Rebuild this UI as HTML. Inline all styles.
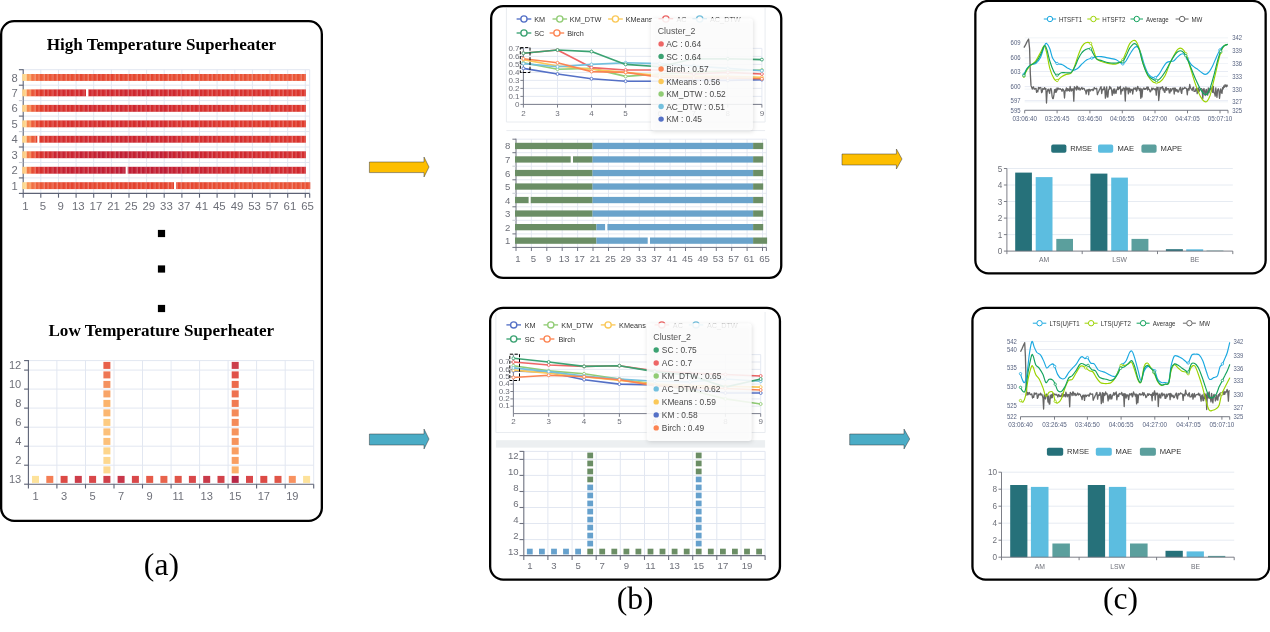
<!DOCTYPE html>
<html><head><meta charset="utf-8"><title>Superheater clustering figure</title>
<style>
html,body{margin:0;padding:0;background:#fff;}
body{width:1270px;height:632px;overflow:hidden;}
svg{display:block;}
text{white-space:pre;}
</style></head><body>
<svg width="1270" height="632" viewBox="0 0 1270 632" font-family='"Liberation Sans", sans-serif' text-anchor="middle" fill="#6e7079">
<rect x="0" y="0" width="1270" height="632" fill="#fff"/>
<rect x="1.15" y="21.15" width="320.70" height="499.70" rx="13" ry="13" fill="#fff" stroke="#000" stroke-width="2.3"/>
<rect x="491.15" y="6.15" width="290.10" height="271.70" rx="12" ry="12" fill="#fff" stroke="#000" stroke-width="2.3"/>
<rect x="490.15" y="307.95" width="289.80" height="271.60" rx="13" ry="13" fill="#fff" stroke="#000" stroke-width="2.3"/>
<rect x="975.35" y="0.95" width="290.30" height="272.40" rx="13" ry="13" fill="#fff" stroke="#000" stroke-width="2.3"/>
<rect x="972.45" y="307.85" width="296.70" height="271.70" rx="13" ry="13" fill="#fff" stroke="#000" stroke-width="2.3"/>
<path d="M369.4,162 L424,162 L424,157 L429,167.0 L424,177 L424,172.6 L369.4,172.6 Z" fill="#fdbe00" stroke="#3a3a3a" stroke-width="0.5"/>
<path d="M369.4,434 L424,434 L424,429 L429,439.0 L424,449 L424,445 L369.4,445 Z" fill="#4aacc6" stroke="#3a3a3a" stroke-width="0.5"/>
<path d="M842,154 L896.4,154 L896.4,149 L902,159.0 L896.4,169 L896.4,165 L842,165 Z" fill="#fdbe00" stroke="#3a3a3a" stroke-width="0.5"/>
<path d="M849.7,434 L904,434 L904,429 L909.7,439.0 L904,449 L904,445 L849.7,445 Z" fill="#4aacc6" stroke="#3a3a3a" stroke-width="0.5"/>
<text x="161.4" y="49.9" font-size="17.1" font-family='"Liberation Serif", serif' font-weight="bold" fill="#000" >High Temperature Superheater</text>
<text x="161.3" y="335.5" font-size="17.1" font-family='"Liberation Serif", serif' font-weight="bold" fill="#000" >Low Temperature Superheater</text>
<rect x="157.9" y="229.9" width="7.2" height="7.2" fill="#000" />
<rect x="157.9" y="265.4" width="7.2" height="7.2" fill="#000" />
<rect x="157.9" y="304.9" width="7.2" height="7.2" fill="#000" />
<text x="161.4" y="574.6" font-size="31.6" font-family='"Liberation Serif", serif' fill="#000" >(a)</text>
<text x="635.2" y="609.1" font-size="31.6" font-family='"Liberation Serif", serif' fill="#000" >(b)</text>
<text x="1120.6" y="609.1" font-size="31.6" font-family='"Liberation Serif", serif' fill="#000" >(c)</text>
<defs><pattern id="stA" x="22.2" y="0" width="4.432" height="10" patternUnits="userSpaceOnUse"><rect x="2.6" y="0" width="1.83" height="10" fill="#fff" fill-opacity="0.14"/></pattern></defs>
<path d="M23.2 69.7L309.7 69.7" stroke="#e2e7f1" stroke-width="1" />
<path d="M23.2 85.2L309.7 85.2" stroke="#e2e7f1" stroke-width="1" />
<path d="M23.2 100.6L309.7 100.6" stroke="#e2e7f1" stroke-width="1" />
<path d="M23.2 116.1L309.7 116.1" stroke="#e2e7f1" stroke-width="1" />
<path d="M23.2 131.6L309.7 131.6" stroke="#e2e7f1" stroke-width="1" />
<path d="M23.2 147.0L309.7 147.0" stroke="#e2e7f1" stroke-width="1" />
<path d="M23.2 162.5L309.7 162.5" stroke="#e2e7f1" stroke-width="1" />
<path d="M23.2 177.9L309.7 177.9" stroke="#e2e7f1" stroke-width="1" />
<path d="M40.8 69.7L40.8 193.4" stroke="#e2e7f1" stroke-width="1" />
<path d="M58.5 69.7L58.5 193.4" stroke="#e2e7f1" stroke-width="1" />
<path d="M76.1 69.7L76.1 193.4" stroke="#e2e7f1" stroke-width="1" />
<path d="M93.7 69.7L93.7 193.4" stroke="#e2e7f1" stroke-width="1" />
<path d="M111.4 69.7L111.4 193.4" stroke="#e2e7f1" stroke-width="1" />
<path d="M129.0 69.7L129.0 193.4" stroke="#e2e7f1" stroke-width="1" />
<path d="M146.6 69.7L146.6 193.4" stroke="#e2e7f1" stroke-width="1" />
<path d="M164.2 69.7L164.2 193.4" stroke="#e2e7f1" stroke-width="1" />
<path d="M181.9 69.7L181.9 193.4" stroke="#e2e7f1" stroke-width="1" />
<path d="M199.5 69.7L199.5 193.4" stroke="#e2e7f1" stroke-width="1" />
<path d="M217.1 69.7L217.1 193.4" stroke="#e2e7f1" stroke-width="1" />
<path d="M234.8 69.7L234.8 193.4" stroke="#e2e7f1" stroke-width="1" />
<path d="M252.4 69.7L252.4 193.4" stroke="#e2e7f1" stroke-width="1" />
<path d="M270.0 69.7L270.0 193.4" stroke="#e2e7f1" stroke-width="1" />
<path d="M287.7 69.7L287.7 193.4" stroke="#e2e7f1" stroke-width="1" />
<path d="M305.3 69.7L305.3 193.4" stroke="#e2e7f1" stroke-width="1" />
<path d="M309.7 69.7L309.7 193.4" stroke="#e2e7f1" stroke-width="1" />
<path d="M23.2 69.2L23.2 193.9" stroke="#5c6275" stroke-width="1.1" />
<path d="M23.2 193.4L309.7 193.4" stroke="#5c6275" stroke-width="1.1" />
<path d="M18.9 69.7L23.2 69.7" stroke="#5c6275" stroke-width="1.1" />
<path d="M18.9 85.2L23.2 85.2" stroke="#5c6275" stroke-width="1.1" />
<path d="M18.9 100.6L23.2 100.6" stroke="#c9ccd4" stroke-width="1.1" />
<path d="M18.9 116.1L23.2 116.1" stroke="#5c6275" stroke-width="1.1" />
<path d="M18.9 131.6L23.2 131.6" stroke="#c9ccd4" stroke-width="1.1" />
<path d="M18.9 147.0L23.2 147.0" stroke="#5c6275" stroke-width="1.1" />
<path d="M18.9 162.5L23.2 162.5" stroke="#c9ccd4" stroke-width="1.1" />
<path d="M18.9 177.9L23.2 177.9" stroke="#5c6275" stroke-width="1.1" />
<path d="M18.9 193.4L23.2 193.4" stroke="#5c6275" stroke-width="1.1" />
<path d="M23.2 193.4L23.2 197.7" stroke="#5c6275" stroke-width="1.1" />
<path d="M40.8 193.4L40.8 197.7" stroke="#5c6275" stroke-width="1.1" />
<path d="M58.5 193.4L58.5 197.7" stroke="#5c6275" stroke-width="1.1" />
<path d="M76.1 193.4L76.1 197.7" stroke="#5c6275" stroke-width="1.1" />
<path d="M93.7 193.4L93.7 197.7" stroke="#5c6275" stroke-width="1.1" />
<path d="M111.4 193.4L111.4 197.7" stroke="#5c6275" stroke-width="1.1" />
<path d="M129.0 193.4L129.0 197.7" stroke="#5c6275" stroke-width="1.1" />
<path d="M146.6 193.4L146.6 197.7" stroke="#5c6275" stroke-width="1.1" />
<path d="M164.2 193.4L164.2 197.7" stroke="#5c6275" stroke-width="1.1" />
<path d="M181.9 193.4L181.9 197.7" stroke="#5c6275" stroke-width="1.1" />
<path d="M199.5 193.4L199.5 197.7" stroke="#5c6275" stroke-width="1.1" />
<path d="M217.1 193.4L217.1 197.7" stroke="#5c6275" stroke-width="1.1" />
<path d="M234.8 193.4L234.8 197.7" stroke="#5c6275" stroke-width="1.1" />
<path d="M252.4 193.4L252.4 197.7" stroke="#5c6275" stroke-width="1.1" />
<path d="M270.0 193.4L270.0 197.7" stroke="#5c6275" stroke-width="1.1" />
<path d="M287.7 193.4L287.7 197.7" stroke="#5c6275" stroke-width="1.1" />
<path d="M305.3 193.4L305.3 197.7" stroke="#5c6275" stroke-width="1.1" />
<path d="M309.7 193.4L309.7 197.7" stroke="#5c6275" stroke-width="1.1" />
<rect x="22.2" y="74.0" width="4.5" height="6.9" fill="#fdd78c"/>
<rect x="26.6" y="74.0" width="4.5" height="6.9" fill="#f99c59"/>
<rect x="31.1" y="74.0" width="4.5" height="6.9" fill="#f27545"/>
<rect x="35.5" y="74.0" width="4.5" height="6.9" fill="#f0683e"/>
<rect x="39.9" y="74.0" width="4.5" height="6.9" fill="#ec5b38"/>
<rect x="44.4" y="74.0" width="4.5" height="6.9" fill="#ea5737"/>
<rect x="48.8" y="74.0" width="4.5" height="6.9" fill="#ea5636"/>
<rect x="53.2" y="74.0" width="4.5" height="6.9" fill="#e85034"/>
<rect x="57.7" y="74.0" width="4.5" height="6.9" fill="#e95335"/>
<rect x="62.1" y="74.0" width="4.5" height="6.9" fill="#e74e33"/>
<rect x="66.5" y="74.0" width="4.5" height="6.9" fill="#e85034"/>
<rect x="71.0" y="74.0" width="4.5" height="6.9" fill="#e84f33"/>
<rect x="75.4" y="74.0" width="4.5" height="6.9" fill="#e74c32"/>
<rect x="79.8" y="74.0" width="4.5" height="6.9" fill="#e54830"/>
<rect x="84.2" y="74.0" width="4.5" height="6.9" fill="#e74d32"/>
<rect x="88.7" y="74.0" width="4.5" height="6.9" fill="#e74c32"/>
<rect x="93.1" y="74.0" width="4.5" height="6.9" fill="#e54830"/>
<rect x="97.5" y="74.0" width="4.5" height="6.9" fill="#e4442f"/>
<rect x="102.0" y="74.0" width="4.5" height="6.9" fill="#e54730"/>
<rect x="106.4" y="74.0" width="4.5" height="6.9" fill="#e54830"/>
<rect x="110.8" y="74.0" width="4.5" height="6.9" fill="#e4432e"/>
<rect x="115.3" y="74.0" width="4.5" height="6.9" fill="#e64b31"/>
<rect x="119.7" y="74.0" width="4.5" height="6.9" fill="#e4442e"/>
<rect x="124.1" y="74.0" width="4.5" height="6.9" fill="#e54830"/>
<rect x="128.6" y="74.0" width="4.5" height="6.9" fill="#e64931"/>
<rect x="133.0" y="74.0" width="4.5" height="6.9" fill="#e64a31"/>
<rect x="137.4" y="74.0" width="4.5" height="6.9" fill="#e54830"/>
<rect x="141.9" y="74.0" width="4.5" height="6.9" fill="#e4442f"/>
<rect x="146.3" y="74.0" width="4.5" height="6.9" fill="#e64a31"/>
<rect x="150.7" y="74.0" width="4.5" height="6.9" fill="#e54730"/>
<rect x="155.2" y="74.0" width="4.5" height="6.9" fill="#e54730"/>
<rect x="159.6" y="74.0" width="4.5" height="6.9" fill="#e64931"/>
<rect x="164.0" y="74.0" width="4.5" height="6.9" fill="#e54830"/>
<rect x="168.5" y="74.0" width="4.5" height="6.9" fill="#e74d32"/>
<rect x="172.9" y="74.0" width="4.5" height="6.9" fill="#e74d33"/>
<rect x="177.3" y="74.0" width="4.5" height="6.9" fill="#e74d32"/>
<rect x="181.8" y="74.0" width="4.5" height="6.9" fill="#e64931"/>
<rect x="186.2" y="74.0" width="4.5" height="6.9" fill="#e74c32"/>
<rect x="190.6" y="74.0" width="4.5" height="6.9" fill="#e74e33"/>
<rect x="195.0" y="74.0" width="4.5" height="6.9" fill="#e74c32"/>
<rect x="199.5" y="74.0" width="4.5" height="6.9" fill="#e74e33"/>
<rect x="203.9" y="74.0" width="4.5" height="6.9" fill="#e85034"/>
<rect x="208.3" y="74.0" width="4.5" height="6.9" fill="#e74c32"/>
<rect x="212.8" y="74.0" width="4.5" height="6.9" fill="#e74e33"/>
<rect x="217.2" y="74.0" width="4.5" height="6.9" fill="#e95235"/>
<rect x="221.6" y="74.0" width="4.5" height="6.9" fill="#e85034"/>
<rect x="226.1" y="74.0" width="4.5" height="6.9" fill="#e85134"/>
<rect x="230.5" y="74.0" width="4.5" height="6.9" fill="#e74e33"/>
<rect x="234.9" y="74.0" width="4.5" height="6.9" fill="#e85034"/>
<rect x="239.4" y="74.0" width="4.5" height="6.9" fill="#e95436"/>
<rect x="243.8" y="74.0" width="4.5" height="6.9" fill="#e84f33"/>
<rect x="248.2" y="74.0" width="4.5" height="6.9" fill="#ea5636"/>
<rect x="252.7" y="74.0" width="4.5" height="6.9" fill="#e95436"/>
<rect x="257.1" y="74.0" width="4.5" height="6.9" fill="#e95234"/>
<rect x="261.5" y="74.0" width="4.5" height="6.9" fill="#ea5737"/>
<rect x="266.0" y="74.0" width="4.5" height="6.9" fill="#e95436"/>
<rect x="270.4" y="74.0" width="4.5" height="6.9" fill="#eb5837"/>
<rect x="274.8" y="74.0" width="4.5" height="6.9" fill="#e95335"/>
<rect x="279.3" y="74.0" width="4.5" height="6.9" fill="#e95335"/>
<rect x="283.7" y="74.0" width="4.5" height="6.9" fill="#e95436"/>
<rect x="288.1" y="74.0" width="4.5" height="6.9" fill="#e95235"/>
<rect x="292.6" y="74.0" width="4.5" height="6.9" fill="#ea5737"/>
<rect x="297.0" y="74.0" width="4.5" height="6.9" fill="#e95435"/>
<rect x="301.4" y="74.0" width="4.5" height="6.9" fill="#ea5536"/>
<rect x="22.2" y="74.0" width="283.6" height="6.9" fill="url(#stA)"/>
<rect x="22.2" y="89.4" width="4.5" height="6.9" fill="#fdd085"/>
<rect x="26.6" y="89.4" width="4.5" height="6.9" fill="#f5824c"/>
<rect x="31.1" y="89.4" width="4.5" height="6.9" fill="#ea5636"/>
<rect x="35.5" y="89.4" width="4.5" height="6.9" fill="#e3402d"/>
<rect x="39.9" y="89.4" width="4.5" height="6.9" fill="#de392c"/>
<rect x="44.4" y="89.4" width="4.5" height="6.9" fill="#d9332d"/>
<rect x="48.8" y="89.4" width="4.5" height="6.9" fill="#da342d"/>
<rect x="53.2" y="89.4" width="4.5" height="6.9" fill="#d52e2d"/>
<rect x="57.7" y="89.4" width="4.5" height="6.9" fill="#d42d2e"/>
<rect x="62.1" y="89.4" width="4.5" height="6.9" fill="#d22a2e"/>
<rect x="66.5" y="89.4" width="4.5" height="6.9" fill="#d22a2e"/>
<rect x="71.0" y="89.4" width="4.5" height="6.9" fill="#d42d2e"/>
<rect x="75.4" y="89.4" width="4.5" height="6.9" fill="#d32b2e"/>
<rect x="79.8" y="89.4" width="4.5" height="6.9" fill="#d1292e"/>
<rect x="84.2" y="89.4" width="4.5" height="6.9" fill="#d42c2e"/>
<rect x="88.7" y="89.4" width="4.5" height="6.9" fill="#d1292e"/>
<rect x="93.1" y="89.4" width="4.5" height="6.9" fill="#d22b2e"/>
<rect x="97.5" y="89.4" width="4.5" height="6.9" fill="#d22a2e"/>
<rect x="102.0" y="89.4" width="4.5" height="6.9" fill="#d22a2e"/>
<rect x="106.4" y="89.4" width="4.5" height="6.9" fill="#cd262f"/>
<rect x="110.8" y="89.4" width="4.5" height="6.9" fill="#d1292e"/>
<rect x="115.3" y="89.4" width="4.5" height="6.9" fill="#d0282e"/>
<rect x="119.7" y="89.4" width="4.5" height="6.9" fill="#cf272e"/>
<rect x="124.1" y="89.4" width="4.5" height="6.9" fill="#cb252f"/>
<rect x="128.6" y="89.4" width="4.5" height="6.9" fill="#d1292e"/>
<rect x="133.0" y="89.4" width="4.5" height="6.9" fill="#cf272e"/>
<rect x="137.4" y="89.4" width="4.5" height="6.9" fill="#ce272f"/>
<rect x="141.9" y="89.4" width="4.5" height="6.9" fill="#cc252f"/>
<rect x="146.3" y="89.4" width="4.5" height="6.9" fill="#cc262f"/>
<rect x="150.7" y="89.4" width="4.5" height="6.9" fill="#cc262f"/>
<rect x="155.2" y="89.4" width="4.5" height="6.9" fill="#d1292e"/>
<rect x="159.6" y="89.4" width="4.5" height="6.9" fill="#d1292e"/>
<rect x="164.0" y="89.4" width="4.5" height="6.9" fill="#d1292e"/>
<rect x="168.5" y="89.4" width="4.5" height="6.9" fill="#cf272e"/>
<rect x="172.9" y="89.4" width="4.5" height="6.9" fill="#cf272e"/>
<rect x="177.3" y="89.4" width="4.5" height="6.9" fill="#d32c2e"/>
<rect x="181.8" y="89.4" width="4.5" height="6.9" fill="#d42d2e"/>
<rect x="186.2" y="89.4" width="4.5" height="6.9" fill="#d42d2e"/>
<rect x="190.6" y="89.4" width="4.5" height="6.9" fill="#d42d2e"/>
<rect x="195.0" y="89.4" width="4.5" height="6.9" fill="#d42d2e"/>
<rect x="199.5" y="89.4" width="4.5" height="6.9" fill="#d42d2e"/>
<rect x="203.9" y="89.4" width="4.5" height="6.9" fill="#d62f2d"/>
<rect x="208.3" y="89.4" width="4.5" height="6.9" fill="#d7312d"/>
<rect x="212.8" y="89.4" width="4.5" height="6.9" fill="#d62f2d"/>
<rect x="217.2" y="89.4" width="4.5" height="6.9" fill="#d7302d"/>
<rect x="221.6" y="89.4" width="4.5" height="6.9" fill="#d62f2d"/>
<rect x="226.1" y="89.4" width="4.5" height="6.9" fill="#d52e2d"/>
<rect x="230.5" y="89.4" width="4.5" height="6.9" fill="#d6302d"/>
<rect x="234.9" y="89.4" width="4.5" height="6.9" fill="#d7312d"/>
<rect x="239.4" y="89.4" width="4.5" height="6.9" fill="#d7312d"/>
<rect x="243.8" y="89.4" width="4.5" height="6.9" fill="#d7312d"/>
<rect x="248.2" y="89.4" width="4.5" height="6.9" fill="#da352d"/>
<rect x="252.7" y="89.4" width="4.5" height="6.9" fill="#d7302d"/>
<rect x="257.1" y="89.4" width="4.5" height="6.9" fill="#d7312d"/>
<rect x="261.5" y="89.4" width="4.5" height="6.9" fill="#d7312d"/>
<rect x="266.0" y="89.4" width="4.5" height="6.9" fill="#d8312d"/>
<rect x="270.4" y="89.4" width="4.5" height="6.9" fill="#da342d"/>
<rect x="274.8" y="89.4" width="4.5" height="6.9" fill="#da342d"/>
<rect x="279.3" y="89.4" width="4.5" height="6.9" fill="#db362d"/>
<rect x="283.7" y="89.4" width="4.5" height="6.9" fill="#d9332d"/>
<rect x="288.1" y="89.4" width="4.5" height="6.9" fill="#dc362d"/>
<rect x="292.6" y="89.4" width="4.5" height="6.9" fill="#dc362d"/>
<rect x="297.0" y="89.4" width="4.5" height="6.9" fill="#db362d"/>
<rect x="301.4" y="89.4" width="4.5" height="6.9" fill="#dc362d"/>
<rect x="22.2" y="89.4" width="283.6" height="6.9" fill="url(#stA)"/>
<rect x="86.0" y="88.9" width="2.2" height="7.9" fill="#fff" />
<rect x="22.2" y="104.9" width="4.5" height="6.9" fill="#fdd287"/>
<rect x="26.6" y="104.9" width="4.5" height="6.9" fill="#f6874e"/>
<rect x="31.1" y="104.9" width="4.5" height="6.9" fill="#ed5e3a"/>
<rect x="35.5" y="104.9" width="4.5" height="6.9" fill="#e54830"/>
<rect x="39.9" y="104.9" width="4.5" height="6.9" fill="#e13d2c"/>
<rect x="44.4" y="104.9" width="4.5" height="6.9" fill="#dc362d"/>
<rect x="48.8" y="104.9" width="4.5" height="6.9" fill="#db352d"/>
<rect x="53.2" y="104.9" width="4.5" height="6.9" fill="#d52f2d"/>
<rect x="57.7" y="104.9" width="4.5" height="6.9" fill="#d62f2d"/>
<rect x="62.1" y="104.9" width="4.5" height="6.9" fill="#d7302d"/>
<rect x="66.5" y="104.9" width="4.5" height="6.9" fill="#d62f2d"/>
<rect x="71.0" y="104.9" width="4.5" height="6.9" fill="#d52e2d"/>
<rect x="75.4" y="104.9" width="4.5" height="6.9" fill="#d42d2e"/>
<rect x="79.8" y="104.9" width="4.5" height="6.9" fill="#d52e2d"/>
<rect x="84.2" y="104.9" width="4.5" height="6.9" fill="#d1292e"/>
<rect x="88.7" y="104.9" width="4.5" height="6.9" fill="#d0282e"/>
<rect x="93.1" y="104.9" width="4.5" height="6.9" fill="#d22a2e"/>
<rect x="97.5" y="104.9" width="4.5" height="6.9" fill="#d12a2e"/>
<rect x="102.0" y="104.9" width="4.5" height="6.9" fill="#d32c2e"/>
<rect x="106.4" y="104.9" width="4.5" height="6.9" fill="#d32b2e"/>
<rect x="110.8" y="104.9" width="4.5" height="6.9" fill="#d1292e"/>
<rect x="115.3" y="104.9" width="4.5" height="6.9" fill="#d12a2e"/>
<rect x="119.7" y="104.9" width="4.5" height="6.9" fill="#ce272f"/>
<rect x="124.1" y="104.9" width="4.5" height="6.9" fill="#d22a2e"/>
<rect x="128.6" y="104.9" width="4.5" height="6.9" fill="#d22b2e"/>
<rect x="133.0" y="104.9" width="4.5" height="6.9" fill="#cd262f"/>
<rect x="137.4" y="104.9" width="4.5" height="6.9" fill="#d0282e"/>
<rect x="141.9" y="104.9" width="4.5" height="6.9" fill="#d22a2e"/>
<rect x="146.3" y="104.9" width="4.5" height="6.9" fill="#d0282e"/>
<rect x="150.7" y="104.9" width="4.5" height="6.9" fill="#d32c2e"/>
<rect x="155.2" y="104.9" width="4.5" height="6.9" fill="#d1292e"/>
<rect x="159.6" y="104.9" width="4.5" height="6.9" fill="#ce272e"/>
<rect x="164.0" y="104.9" width="4.5" height="6.9" fill="#d0282e"/>
<rect x="168.5" y="104.9" width="4.5" height="6.9" fill="#d1292e"/>
<rect x="172.9" y="104.9" width="4.5" height="6.9" fill="#d42c2e"/>
<rect x="177.3" y="104.9" width="4.5" height="6.9" fill="#d42c2e"/>
<rect x="181.8" y="104.9" width="4.5" height="6.9" fill="#d52e2d"/>
<rect x="186.2" y="104.9" width="4.5" height="6.9" fill="#d32b2e"/>
<rect x="190.6" y="104.9" width="4.5" height="6.9" fill="#d42d2e"/>
<rect x="195.0" y="104.9" width="4.5" height="6.9" fill="#d32c2e"/>
<rect x="199.5" y="104.9" width="4.5" height="6.9" fill="#d62f2d"/>
<rect x="203.9" y="104.9" width="4.5" height="6.9" fill="#d7312d"/>
<rect x="208.3" y="104.9" width="4.5" height="6.9" fill="#d52e2d"/>
<rect x="212.8" y="104.9" width="4.5" height="6.9" fill="#d42d2e"/>
<rect x="217.2" y="104.9" width="4.5" height="6.9" fill="#d52f2d"/>
<rect x="221.6" y="104.9" width="4.5" height="6.9" fill="#d62f2d"/>
<rect x="226.1" y="104.9" width="4.5" height="6.9" fill="#d6302d"/>
<rect x="230.5" y="104.9" width="4.5" height="6.9" fill="#d7312d"/>
<rect x="234.9" y="104.9" width="4.5" height="6.9" fill="#da342d"/>
<rect x="239.4" y="104.9" width="4.5" height="6.9" fill="#d9332d"/>
<rect x="243.8" y="104.9" width="4.5" height="6.9" fill="#da342d"/>
<rect x="248.2" y="104.9" width="4.5" height="6.9" fill="#dc362d"/>
<rect x="252.7" y="104.9" width="4.5" height="6.9" fill="#dc372d"/>
<rect x="257.1" y="104.9" width="4.5" height="6.9" fill="#db352d"/>
<rect x="261.5" y="104.9" width="4.5" height="6.9" fill="#db362d"/>
<rect x="266.0" y="104.9" width="4.5" height="6.9" fill="#d9332d"/>
<rect x="270.4" y="104.9" width="4.5" height="6.9" fill="#d8322d"/>
<rect x="274.8" y="104.9" width="4.5" height="6.9" fill="#db352d"/>
<rect x="279.3" y="104.9" width="4.5" height="6.9" fill="#d8322d"/>
<rect x="283.7" y="104.9" width="4.5" height="6.9" fill="#d8322d"/>
<rect x="288.1" y="104.9" width="4.5" height="6.9" fill="#d9332d"/>
<rect x="292.6" y="104.9" width="4.5" height="6.9" fill="#dc362d"/>
<rect x="297.0" y="104.9" width="4.5" height="6.9" fill="#dc372d"/>
<rect x="301.4" y="104.9" width="4.5" height="6.9" fill="#dc372d"/>
<rect x="22.2" y="104.9" width="283.6" height="6.9" fill="url(#stA)"/>
<rect x="22.2" y="120.4" width="4.5" height="6.9" fill="#fdd489"/>
<rect x="26.6" y="120.4" width="4.5" height="6.9" fill="#f6894f"/>
<rect x="31.1" y="120.4" width="4.5" height="6.9" fill="#ec5d39"/>
<rect x="35.5" y="120.4" width="4.5" height="6.9" fill="#e54730"/>
<rect x="39.9" y="120.4" width="4.5" height="6.9" fill="#e13c2c"/>
<rect x="44.4" y="120.4" width="4.5" height="6.9" fill="#df3a2c"/>
<rect x="48.8" y="120.4" width="4.5" height="6.9" fill="#db362d"/>
<rect x="53.2" y="120.4" width="4.5" height="6.9" fill="#d9332d"/>
<rect x="57.7" y="120.4" width="4.5" height="6.9" fill="#db362d"/>
<rect x="62.1" y="120.4" width="4.5" height="6.9" fill="#d8322d"/>
<rect x="66.5" y="120.4" width="4.5" height="6.9" fill="#d62f2d"/>
<rect x="71.0" y="120.4" width="4.5" height="6.9" fill="#d62f2d"/>
<rect x="75.4" y="120.4" width="4.5" height="6.9" fill="#d62f2d"/>
<rect x="79.8" y="120.4" width="4.5" height="6.9" fill="#d7302d"/>
<rect x="84.2" y="120.4" width="4.5" height="6.9" fill="#d8312d"/>
<rect x="88.7" y="120.4" width="4.5" height="6.9" fill="#d42d2e"/>
<rect x="93.1" y="120.4" width="4.5" height="6.9" fill="#d62f2d"/>
<rect x="97.5" y="120.4" width="4.5" height="6.9" fill="#d32c2e"/>
<rect x="102.0" y="120.4" width="4.5" height="6.9" fill="#d22b2e"/>
<rect x="106.4" y="120.4" width="4.5" height="6.9" fill="#d52e2d"/>
<rect x="110.8" y="120.4" width="4.5" height="6.9" fill="#d42d2e"/>
<rect x="115.3" y="120.4" width="4.5" height="6.9" fill="#d22a2e"/>
<rect x="119.7" y="120.4" width="4.5" height="6.9" fill="#d32b2e"/>
<rect x="124.1" y="120.4" width="4.5" height="6.9" fill="#d52e2d"/>
<rect x="128.6" y="120.4" width="4.5" height="6.9" fill="#d52f2d"/>
<rect x="133.0" y="120.4" width="4.5" height="6.9" fill="#d52e2d"/>
<rect x="137.4" y="120.4" width="4.5" height="6.9" fill="#d22a2e"/>
<rect x="141.9" y="120.4" width="4.5" height="6.9" fill="#d22b2e"/>
<rect x="146.3" y="120.4" width="4.5" height="6.9" fill="#d62f2d"/>
<rect x="150.7" y="120.4" width="4.5" height="6.9" fill="#d32b2e"/>
<rect x="155.2" y="120.4" width="4.5" height="6.9" fill="#d22b2e"/>
<rect x="159.6" y="120.4" width="4.5" height="6.9" fill="#d42d2e"/>
<rect x="164.0" y="120.4" width="4.5" height="6.9" fill="#d62f2d"/>
<rect x="168.5" y="120.4" width="4.5" height="6.9" fill="#d52f2d"/>
<rect x="172.9" y="120.4" width="4.5" height="6.9" fill="#d8312d"/>
<rect x="177.3" y="120.4" width="4.5" height="6.9" fill="#d9332d"/>
<rect x="181.8" y="120.4" width="4.5" height="6.9" fill="#d52e2d"/>
<rect x="186.2" y="120.4" width="4.5" height="6.9" fill="#d7302d"/>
<rect x="190.6" y="120.4" width="4.5" height="6.9" fill="#d8312d"/>
<rect x="195.0" y="120.4" width="4.5" height="6.9" fill="#d6302d"/>
<rect x="199.5" y="120.4" width="4.5" height="6.9" fill="#d9332d"/>
<rect x="203.9" y="120.4" width="4.5" height="6.9" fill="#d7312d"/>
<rect x="208.3" y="120.4" width="4.5" height="6.9" fill="#d8322d"/>
<rect x="212.8" y="120.4" width="4.5" height="6.9" fill="#db362d"/>
<rect x="217.2" y="120.4" width="4.5" height="6.9" fill="#dc362d"/>
<rect x="221.6" y="120.4" width="4.5" height="6.9" fill="#dc362d"/>
<rect x="226.1" y="120.4" width="4.5" height="6.9" fill="#dc372d"/>
<rect x="230.5" y="120.4" width="4.5" height="6.9" fill="#db362d"/>
<rect x="234.9" y="120.4" width="4.5" height="6.9" fill="#dd382d"/>
<rect x="239.4" y="120.4" width="4.5" height="6.9" fill="#dd372d"/>
<rect x="243.8" y="120.4" width="4.5" height="6.9" fill="#de392c"/>
<rect x="248.2" y="120.4" width="4.5" height="6.9" fill="#db352d"/>
<rect x="252.7" y="120.4" width="4.5" height="6.9" fill="#de392c"/>
<rect x="257.1" y="120.4" width="4.5" height="6.9" fill="#dd382d"/>
<rect x="261.5" y="120.4" width="4.5" height="6.9" fill="#dd382d"/>
<rect x="266.0" y="120.4" width="4.5" height="6.9" fill="#dc362d"/>
<rect x="270.4" y="120.4" width="4.5" height="6.9" fill="#de392c"/>
<rect x="274.8" y="120.4" width="4.5" height="6.9" fill="#dc362d"/>
<rect x="279.3" y="120.4" width="4.5" height="6.9" fill="#de392c"/>
<rect x="283.7" y="120.4" width="4.5" height="6.9" fill="#de392c"/>
<rect x="288.1" y="120.4" width="4.5" height="6.9" fill="#de392c"/>
<rect x="292.6" y="120.4" width="4.5" height="6.9" fill="#e03c2c"/>
<rect x="297.0" y="120.4" width="4.5" height="6.9" fill="#de3a2c"/>
<rect x="301.4" y="120.4" width="4.5" height="6.9" fill="#e03b2c"/>
<rect x="22.2" y="120.4" width="283.6" height="6.9" fill="url(#stA)"/>
<rect x="22.2" y="135.8" width="4.5" height="6.9" fill="#fdd58a"/>
<rect x="26.6" y="135.8" width="4.5" height="6.9" fill="#f47e49"/>
<rect x="31.1" y="135.8" width="4.5" height="6.9" fill="#eb5a38"/>
<rect x="35.5" y="135.8" width="4.5" height="6.9" fill="#e3422e"/>
<rect x="39.9" y="135.8" width="4.5" height="6.9" fill="#dc372d"/>
<rect x="44.4" y="135.8" width="4.5" height="6.9" fill="#d9332d"/>
<rect x="48.8" y="135.8" width="4.5" height="6.9" fill="#d7312d"/>
<rect x="53.2" y="135.8" width="4.5" height="6.9" fill="#d52e2d"/>
<rect x="57.7" y="135.8" width="4.5" height="6.9" fill="#d42c2e"/>
<rect x="62.1" y="135.8" width="4.5" height="6.9" fill="#d22a2e"/>
<rect x="66.5" y="135.8" width="4.5" height="6.9" fill="#d42d2e"/>
<rect x="71.0" y="135.8" width="4.5" height="6.9" fill="#d12a2e"/>
<rect x="75.4" y="135.8" width="4.5" height="6.9" fill="#d22b2e"/>
<rect x="79.8" y="135.8" width="4.5" height="6.9" fill="#d22a2e"/>
<rect x="84.2" y="135.8" width="4.5" height="6.9" fill="#ce272f"/>
<rect x="88.7" y="135.8" width="4.5" height="6.9" fill="#d0282e"/>
<rect x="93.1" y="135.8" width="4.5" height="6.9" fill="#ce272e"/>
<rect x="97.5" y="135.8" width="4.5" height="6.9" fill="#cc262f"/>
<rect x="102.0" y="135.8" width="4.5" height="6.9" fill="#cb2530"/>
<rect x="106.4" y="135.8" width="4.5" height="6.9" fill="#ce272f"/>
<rect x="110.8" y="135.8" width="4.5" height="6.9" fill="#cc262f"/>
<rect x="115.3" y="135.8" width="4.5" height="6.9" fill="#cd262f"/>
<rect x="119.7" y="135.8" width="4.5" height="6.9" fill="#cc262f"/>
<rect x="124.1" y="135.8" width="4.5" height="6.9" fill="#cb252f"/>
<rect x="128.6" y="135.8" width="4.5" height="6.9" fill="#cd262f"/>
<rect x="133.0" y="135.8" width="4.5" height="6.9" fill="#cc252f"/>
<rect x="137.4" y="135.8" width="4.5" height="6.9" fill="#cd262f"/>
<rect x="141.9" y="135.8" width="4.5" height="6.9" fill="#c92430"/>
<rect x="146.3" y="135.8" width="4.5" height="6.9" fill="#cb252f"/>
<rect x="150.7" y="135.8" width="4.5" height="6.9" fill="#cb2430"/>
<rect x="155.2" y="135.8" width="4.5" height="6.9" fill="#cb2430"/>
<rect x="159.6" y="135.8" width="4.5" height="6.9" fill="#d0282e"/>
<rect x="164.0" y="135.8" width="4.5" height="6.9" fill="#ce272e"/>
<rect x="168.5" y="135.8" width="4.5" height="6.9" fill="#cc262f"/>
<rect x="172.9" y="135.8" width="4.5" height="6.9" fill="#ce272f"/>
<rect x="177.3" y="135.8" width="4.5" height="6.9" fill="#d22b2e"/>
<rect x="181.8" y="135.8" width="4.5" height="6.9" fill="#d32c2e"/>
<rect x="186.2" y="135.8" width="4.5" height="6.9" fill="#d22a2e"/>
<rect x="190.6" y="135.8" width="4.5" height="6.9" fill="#d42d2e"/>
<rect x="195.0" y="135.8" width="4.5" height="6.9" fill="#d42d2e"/>
<rect x="199.5" y="135.8" width="4.5" height="6.9" fill="#d52e2d"/>
<rect x="203.9" y="135.8" width="4.5" height="6.9" fill="#d32b2e"/>
<rect x="208.3" y="135.8" width="4.5" height="6.9" fill="#d32b2e"/>
<rect x="212.8" y="135.8" width="4.5" height="6.9" fill="#d32b2e"/>
<rect x="217.2" y="135.8" width="4.5" height="6.9" fill="#d7302d"/>
<rect x="221.6" y="135.8" width="4.5" height="6.9" fill="#d42d2e"/>
<rect x="226.1" y="135.8" width="4.5" height="6.9" fill="#d52e2d"/>
<rect x="230.5" y="135.8" width="4.5" height="6.9" fill="#d8312d"/>
<rect x="234.9" y="135.8" width="4.5" height="6.9" fill="#d52e2d"/>
<rect x="239.4" y="135.8" width="4.5" height="6.9" fill="#d42d2e"/>
<rect x="243.8" y="135.8" width="4.5" height="6.9" fill="#d8322d"/>
<rect x="248.2" y="135.8" width="4.5" height="6.9" fill="#d52e2d"/>
<rect x="252.7" y="135.8" width="4.5" height="6.9" fill="#d8322d"/>
<rect x="257.1" y="135.8" width="4.5" height="6.9" fill="#d8312d"/>
<rect x="261.5" y="135.8" width="4.5" height="6.9" fill="#d62f2d"/>
<rect x="266.0" y="135.8" width="4.5" height="6.9" fill="#d6302d"/>
<rect x="270.4" y="135.8" width="4.5" height="6.9" fill="#da342d"/>
<rect x="274.8" y="135.8" width="4.5" height="6.9" fill="#d9332d"/>
<rect x="279.3" y="135.8" width="4.5" height="6.9" fill="#d8322d"/>
<rect x="283.7" y="135.8" width="4.5" height="6.9" fill="#d9332d"/>
<rect x="288.1" y="135.8" width="4.5" height="6.9" fill="#da342d"/>
<rect x="292.6" y="135.8" width="4.5" height="6.9" fill="#da342d"/>
<rect x="297.0" y="135.8" width="4.5" height="6.9" fill="#d8312d"/>
<rect x="301.4" y="135.8" width="4.5" height="6.9" fill="#db362d"/>
<rect x="22.2" y="135.8" width="283.6" height="6.9" fill="url(#stA)"/>
<rect x="37.3" y="135.3" width="2.0" height="7.9" fill="#fff" />
<rect x="22.2" y="151.3" width="4.5" height="6.9" fill="#fdce84"/>
<rect x="26.6" y="151.3" width="4.5" height="6.9" fill="#f37b48"/>
<rect x="31.1" y="151.3" width="4.5" height="6.9" fill="#e95335"/>
<rect x="35.5" y="151.3" width="4.5" height="6.9" fill="#df3b2c"/>
<rect x="39.9" y="151.3" width="4.5" height="6.9" fill="#d6302d"/>
<rect x="44.4" y="151.3" width="4.5" height="6.9" fill="#d32b2e"/>
<rect x="48.8" y="151.3" width="4.5" height="6.9" fill="#d22b2e"/>
<rect x="53.2" y="151.3" width="4.5" height="6.9" fill="#ca2430"/>
<rect x="57.7" y="151.3" width="4.5" height="6.9" fill="#c92430"/>
<rect x="62.1" y="151.3" width="4.5" height="6.9" fill="#c72231"/>
<rect x="66.5" y="151.3" width="4.5" height="6.9" fill="#cc252f"/>
<rect x="71.0" y="151.3" width="4.5" height="6.9" fill="#ca2430"/>
<rect x="75.4" y="151.3" width="4.5" height="6.9" fill="#ca2430"/>
<rect x="79.8" y="151.3" width="4.5" height="6.9" fill="#c42031"/>
<rect x="84.2" y="151.3" width="4.5" height="6.9" fill="#c72231"/>
<rect x="88.7" y="151.3" width="4.5" height="6.9" fill="#c72230"/>
<rect x="93.1" y="151.3" width="4.5" height="6.9" fill="#c42131"/>
<rect x="97.5" y="151.3" width="4.5" height="6.9" fill="#c01e33"/>
<rect x="102.0" y="151.3" width="4.5" height="6.9" fill="#c01e32"/>
<rect x="106.4" y="151.3" width="4.5" height="6.9" fill="#c42031"/>
<rect x="110.8" y="151.3" width="4.5" height="6.9" fill="#c42131"/>
<rect x="115.3" y="151.3" width="4.5" height="6.9" fill="#be1d33"/>
<rect x="119.7" y="151.3" width="4.5" height="6.9" fill="#c11e32"/>
<rect x="124.1" y="151.3" width="4.5" height="6.9" fill="#c01d33"/>
<rect x="128.6" y="151.3" width="4.5" height="6.9" fill="#c42031"/>
<rect x="133.0" y="151.3" width="4.5" height="6.9" fill="#c42131"/>
<rect x="137.4" y="151.3" width="4.5" height="6.9" fill="#c01e33"/>
<rect x="141.9" y="151.3" width="4.5" height="6.9" fill="#c21f32"/>
<rect x="146.3" y="151.3" width="4.5" height="6.9" fill="#c52131"/>
<rect x="150.7" y="151.3" width="4.5" height="6.9" fill="#bf1d33"/>
<rect x="155.2" y="151.3" width="4.5" height="6.9" fill="#c21f32"/>
<rect x="159.6" y="151.3" width="4.5" height="6.9" fill="#c11e32"/>
<rect x="164.0" y="151.3" width="4.5" height="6.9" fill="#c72231"/>
<rect x="168.5" y="151.3" width="4.5" height="6.9" fill="#c21f32"/>
<rect x="172.9" y="151.3" width="4.5" height="6.9" fill="#c92330"/>
<rect x="177.3" y="151.3" width="4.5" height="6.9" fill="#c32032"/>
<rect x="181.8" y="151.3" width="4.5" height="6.9" fill="#c72231"/>
<rect x="186.2" y="151.3" width="4.5" height="6.9" fill="#c92330"/>
<rect x="190.6" y="151.3" width="4.5" height="6.9" fill="#c82330"/>
<rect x="195.0" y="151.3" width="4.5" height="6.9" fill="#c62231"/>
<rect x="199.5" y="151.3" width="4.5" height="6.9" fill="#cc252f"/>
<rect x="203.9" y="151.3" width="4.5" height="6.9" fill="#ce262f"/>
<rect x="208.3" y="151.3" width="4.5" height="6.9" fill="#cb252f"/>
<rect x="212.8" y="151.3" width="4.5" height="6.9" fill="#ce272e"/>
<rect x="217.2" y="151.3" width="4.5" height="6.9" fill="#d0282e"/>
<rect x="221.6" y="151.3" width="4.5" height="6.9" fill="#d0282e"/>
<rect x="226.1" y="151.3" width="4.5" height="6.9" fill="#d1292e"/>
<rect x="230.5" y="151.3" width="4.5" height="6.9" fill="#d1292e"/>
<rect x="234.9" y="151.3" width="4.5" height="6.9" fill="#d1292e"/>
<rect x="239.4" y="151.3" width="4.5" height="6.9" fill="#d1292e"/>
<rect x="243.8" y="151.3" width="4.5" height="6.9" fill="#cf272e"/>
<rect x="248.2" y="151.3" width="4.5" height="6.9" fill="#d22a2e"/>
<rect x="252.7" y="151.3" width="4.5" height="6.9" fill="#d1292e"/>
<rect x="257.1" y="151.3" width="4.5" height="6.9" fill="#d32b2e"/>
<rect x="261.5" y="151.3" width="4.5" height="6.9" fill="#d22b2e"/>
<rect x="266.0" y="151.3" width="4.5" height="6.9" fill="#d42d2e"/>
<rect x="270.4" y="151.3" width="4.5" height="6.9" fill="#d32c2e"/>
<rect x="274.8" y="151.3" width="4.5" height="6.9" fill="#d42d2e"/>
<rect x="279.3" y="151.3" width="4.5" height="6.9" fill="#d1292e"/>
<rect x="283.7" y="151.3" width="4.5" height="6.9" fill="#d22a2e"/>
<rect x="288.1" y="151.3" width="4.5" height="6.9" fill="#d42d2e"/>
<rect x="292.6" y="151.3" width="4.5" height="6.9" fill="#d22b2e"/>
<rect x="297.0" y="151.3" width="4.5" height="6.9" fill="#d0282e"/>
<rect x="301.4" y="151.3" width="4.5" height="6.9" fill="#d42d2e"/>
<rect x="22.2" y="151.3" width="283.6" height="6.9" fill="url(#stA)"/>
<rect x="22.2" y="166.8" width="4.5" height="6.9" fill="#fdcb81"/>
<rect x="26.6" y="166.8" width="4.5" height="6.9" fill="#f37846"/>
<rect x="31.1" y="166.8" width="4.5" height="6.9" fill="#e74c32"/>
<rect x="35.5" y="166.8" width="4.5" height="6.9" fill="#db362d"/>
<rect x="39.9" y="166.8" width="4.5" height="6.9" fill="#d62f2d"/>
<rect x="44.4" y="166.8" width="4.5" height="6.9" fill="#d0292e"/>
<rect x="48.8" y="166.8" width="4.5" height="6.9" fill="#cb252f"/>
<rect x="53.2" y="166.8" width="4.5" height="6.9" fill="#c62231"/>
<rect x="57.7" y="166.8" width="4.5" height="6.9" fill="#c92430"/>
<rect x="62.1" y="166.8" width="4.5" height="6.9" fill="#c42031"/>
<rect x="66.5" y="166.8" width="4.5" height="6.9" fill="#c42031"/>
<rect x="71.0" y="166.8" width="4.5" height="6.9" fill="#c32032"/>
<rect x="75.4" y="166.8" width="4.5" height="6.9" fill="#c42031"/>
<rect x="79.8" y="166.8" width="4.5" height="6.9" fill="#c42032"/>
<rect x="84.2" y="166.8" width="4.5" height="6.9" fill="#c52131"/>
<rect x="88.7" y="166.8" width="4.5" height="6.9" fill="#c42032"/>
<rect x="93.1" y="166.8" width="4.5" height="6.9" fill="#c32032"/>
<rect x="97.5" y="166.8" width="4.5" height="6.9" fill="#be1c33"/>
<rect x="102.0" y="166.8" width="4.5" height="6.9" fill="#c11e32"/>
<rect x="106.4" y="166.8" width="4.5" height="6.9" fill="#c11e32"/>
<rect x="110.8" y="166.8" width="4.5" height="6.9" fill="#c11e32"/>
<rect x="115.3" y="166.8" width="4.5" height="6.9" fill="#bb1b34"/>
<rect x="119.7" y="166.8" width="4.5" height="6.9" fill="#bb1a34"/>
<rect x="124.1" y="166.8" width="4.5" height="6.9" fill="#bc1b34"/>
<rect x="128.6" y="166.8" width="4.5" height="6.9" fill="#bf1d33"/>
<rect x="133.0" y="166.8" width="4.5" height="6.9" fill="#bf1d33"/>
<rect x="137.4" y="166.8" width="4.5" height="6.9" fill="#bf1d33"/>
<rect x="141.9" y="166.8" width="4.5" height="6.9" fill="#be1c33"/>
<rect x="146.3" y="166.8" width="4.5" height="6.9" fill="#c11e32"/>
<rect x="150.7" y="166.8" width="4.5" height="6.9" fill="#bf1d33"/>
<rect x="155.2" y="166.8" width="4.5" height="6.9" fill="#c11e32"/>
<rect x="159.6" y="166.8" width="4.5" height="6.9" fill="#bc1b34"/>
<rect x="164.0" y="166.8" width="4.5" height="6.9" fill="#bd1c34"/>
<rect x="168.5" y="166.8" width="4.5" height="6.9" fill="#c11e32"/>
<rect x="172.9" y="166.8" width="4.5" height="6.9" fill="#c42032"/>
<rect x="177.3" y="166.8" width="4.5" height="6.9" fill="#bf1d33"/>
<rect x="181.8" y="166.8" width="4.5" height="6.9" fill="#c52131"/>
<rect x="186.2" y="166.8" width="4.5" height="6.9" fill="#c52131"/>
<rect x="190.6" y="166.8" width="4.5" height="6.9" fill="#c92330"/>
<rect x="195.0" y="166.8" width="4.5" height="6.9" fill="#c72231"/>
<rect x="199.5" y="166.8" width="4.5" height="6.9" fill="#c72231"/>
<rect x="203.9" y="166.8" width="4.5" height="6.9" fill="#c72230"/>
<rect x="208.3" y="166.8" width="4.5" height="6.9" fill="#ca2430"/>
<rect x="212.8" y="166.8" width="4.5" height="6.9" fill="#c92330"/>
<rect x="217.2" y="166.8" width="4.5" height="6.9" fill="#cd262f"/>
<rect x="221.6" y="166.8" width="4.5" height="6.9" fill="#cc262f"/>
<rect x="226.1" y="166.8" width="4.5" height="6.9" fill="#ce272f"/>
<rect x="230.5" y="166.8" width="4.5" height="6.9" fill="#cc262f"/>
<rect x="234.9" y="166.8" width="4.5" height="6.9" fill="#d0282e"/>
<rect x="239.4" y="166.8" width="4.5" height="6.9" fill="#d0282e"/>
<rect x="243.8" y="166.8" width="4.5" height="6.9" fill="#cf272e"/>
<rect x="248.2" y="166.8" width="4.5" height="6.9" fill="#d0282e"/>
<rect x="252.7" y="166.8" width="4.5" height="6.9" fill="#cd262f"/>
<rect x="257.1" y="166.8" width="4.5" height="6.9" fill="#ce272f"/>
<rect x="261.5" y="166.8" width="4.5" height="6.9" fill="#cd262f"/>
<rect x="266.0" y="166.8" width="4.5" height="6.9" fill="#ce272f"/>
<rect x="270.4" y="166.8" width="4.5" height="6.9" fill="#ce272f"/>
<rect x="274.8" y="166.8" width="4.5" height="6.9" fill="#cd262f"/>
<rect x="279.3" y="166.8" width="4.5" height="6.9" fill="#d0282e"/>
<rect x="283.7" y="166.8" width="4.5" height="6.9" fill="#d1292e"/>
<rect x="288.1" y="166.8" width="4.5" height="6.9" fill="#cc262f"/>
<rect x="292.6" y="166.8" width="4.5" height="6.9" fill="#d22a2e"/>
<rect x="297.0" y="166.8" width="4.5" height="6.9" fill="#cf272e"/>
<rect x="301.4" y="166.8" width="4.5" height="6.9" fill="#cf282e"/>
<rect x="22.2" y="166.8" width="283.6" height="6.9" fill="url(#stA)"/>
<rect x="125.6" y="166.3" width="2.1" height="7.9" fill="#fff" />
<rect x="22.2" y="182.2" width="4.5" height="6.9" fill="#fdd98e"/>
<rect x="26.6" y="182.2" width="4.5" height="6.9" fill="#f89354"/>
<rect x="31.1" y="182.2" width="4.5" height="6.9" fill="#f17042"/>
<rect x="35.5" y="182.2" width="4.5" height="6.9" fill="#ed603b"/>
<rect x="39.9" y="182.2" width="4.5" height="6.9" fill="#ea5636"/>
<rect x="44.4" y="182.2" width="4.5" height="6.9" fill="#e84f33"/>
<rect x="48.8" y="182.2" width="4.5" height="6.9" fill="#e85134"/>
<rect x="53.2" y="182.2" width="4.5" height="6.9" fill="#e74c32"/>
<rect x="57.7" y="182.2" width="4.5" height="6.9" fill="#e64b31"/>
<rect x="62.1" y="182.2" width="4.5" height="6.9" fill="#e54730"/>
<rect x="66.5" y="182.2" width="4.5" height="6.9" fill="#e5462f"/>
<rect x="71.0" y="182.2" width="4.5" height="6.9" fill="#e4452f"/>
<rect x="75.4" y="182.2" width="4.5" height="6.9" fill="#e54630"/>
<rect x="79.8" y="182.2" width="4.5" height="6.9" fill="#e4432e"/>
<rect x="84.2" y="182.2" width="4.5" height="6.9" fill="#e4442f"/>
<rect x="88.7" y="182.2" width="4.5" height="6.9" fill="#e4432e"/>
<rect x="93.1" y="182.2" width="4.5" height="6.9" fill="#e54730"/>
<rect x="97.5" y="182.2" width="4.5" height="6.9" fill="#e54830"/>
<rect x="102.0" y="182.2" width="4.5" height="6.9" fill="#e54730"/>
<rect x="106.4" y="182.2" width="4.5" height="6.9" fill="#e4442f"/>
<rect x="110.8" y="182.2" width="4.5" height="6.9" fill="#e5462f"/>
<rect x="115.3" y="182.2" width="4.5" height="6.9" fill="#e3402d"/>
<rect x="119.7" y="182.2" width="4.5" height="6.9" fill="#e3422e"/>
<rect x="124.1" y="182.2" width="4.5" height="6.9" fill="#e3412d"/>
<rect x="128.6" y="182.2" width="4.5" height="6.9" fill="#e3412d"/>
<rect x="133.0" y="182.2" width="4.5" height="6.9" fill="#e3412d"/>
<rect x="137.4" y="182.2" width="4.5" height="6.9" fill="#e3422e"/>
<rect x="141.9" y="182.2" width="4.5" height="6.9" fill="#e54730"/>
<rect x="146.3" y="182.2" width="4.5" height="6.9" fill="#e3402d"/>
<rect x="150.7" y="182.2" width="4.5" height="6.9" fill="#e3412d"/>
<rect x="155.2" y="182.2" width="4.5" height="6.9" fill="#e4442e"/>
<rect x="159.6" y="182.2" width="4.5" height="6.9" fill="#e4442e"/>
<rect x="164.0" y="182.2" width="4.5" height="6.9" fill="#e4432e"/>
<rect x="168.5" y="182.2" width="4.5" height="6.9" fill="#e64931"/>
<rect x="172.9" y="182.2" width="4.5" height="6.9" fill="#e4442e"/>
<rect x="177.3" y="182.2" width="4.5" height="6.9" fill="#e54830"/>
<rect x="181.8" y="182.2" width="4.5" height="6.9" fill="#e64b31"/>
<rect x="186.2" y="182.2" width="4.5" height="6.9" fill="#e64a31"/>
<rect x="190.6" y="182.2" width="4.5" height="6.9" fill="#e54630"/>
<rect x="195.0" y="182.2" width="4.5" height="6.9" fill="#e64b32"/>
<rect x="199.5" y="182.2" width="4.5" height="6.9" fill="#e54830"/>
<rect x="203.9" y="182.2" width="4.5" height="6.9" fill="#e54630"/>
<rect x="208.3" y="182.2" width="4.5" height="6.9" fill="#e64b32"/>
<rect x="212.8" y="182.2" width="4.5" height="6.9" fill="#e74d32"/>
<rect x="217.2" y="182.2" width="4.5" height="6.9" fill="#e74c32"/>
<rect x="221.6" y="182.2" width="4.5" height="6.9" fill="#e64b32"/>
<rect x="226.1" y="182.2" width="4.5" height="6.9" fill="#e64b32"/>
<rect x="230.5" y="182.2" width="4.5" height="6.9" fill="#e74d32"/>
<rect x="234.9" y="182.2" width="4.5" height="6.9" fill="#e74d32"/>
<rect x="239.4" y="182.2" width="4.5" height="6.9" fill="#e95235"/>
<rect x="243.8" y="182.2" width="4.5" height="6.9" fill="#e95235"/>
<rect x="248.2" y="182.2" width="4.5" height="6.9" fill="#e85134"/>
<rect x="252.7" y="182.2" width="4.5" height="6.9" fill="#e74e33"/>
<rect x="257.1" y="182.2" width="4.5" height="6.9" fill="#e95234"/>
<rect x="261.5" y="182.2" width="4.5" height="6.9" fill="#e85034"/>
<rect x="266.0" y="182.2" width="4.5" height="6.9" fill="#ea5536"/>
<rect x="270.4" y="182.2" width="4.5" height="6.9" fill="#e95436"/>
<rect x="274.8" y="182.2" width="4.5" height="6.9" fill="#e95335"/>
<rect x="279.3" y="182.2" width="4.5" height="6.9" fill="#e85034"/>
<rect x="283.7" y="182.2" width="4.5" height="6.9" fill="#e85034"/>
<rect x="288.1" y="182.2" width="4.5" height="6.9" fill="#e85034"/>
<rect x="292.6" y="182.2" width="4.5" height="6.9" fill="#e95335"/>
<rect x="297.0" y="182.2" width="4.5" height="6.9" fill="#e85134"/>
<rect x="301.4" y="182.2" width="4.5" height="6.9" fill="#e95235"/>
<rect x="305.8" y="182.2" width="4.5" height="6.9" fill="#e95235"/>
<rect x="22.2" y="182.2" width="288.1" height="6.9" fill="url(#stA)"/>
<rect x="174.0" y="181.7" width="2.1" height="7.9" fill="#fff" />
<text x="17.8" y="81.5" font-size="11.2" text-anchor="end" >8</text>
<text x="17.8" y="96.9" font-size="11.2" text-anchor="end" >7</text>
<text x="17.8" y="112.4" font-size="11.2" text-anchor="end" >6</text>
<text x="17.8" y="127.9" font-size="11.2" text-anchor="end" >5</text>
<text x="17.8" y="143.3" font-size="11.2" text-anchor="end" >4</text>
<text x="17.8" y="158.8" font-size="11.2" text-anchor="end" >3</text>
<text x="17.8" y="174.2" font-size="11.2" text-anchor="end" >2</text>
<text x="17.8" y="189.7" font-size="11.2" text-anchor="end" >1</text>
<text x="25.4" y="210.1" font-size="11.4" >1</text>
<text x="43.0" y="210.1" font-size="11.4" >5</text>
<text x="60.7" y="210.1" font-size="11.4" >9</text>
<text x="78.3" y="210.1" font-size="11.4" >13</text>
<text x="95.9" y="210.1" font-size="11.4" >17</text>
<text x="113.6" y="210.1" font-size="11.4" >21</text>
<text x="131.2" y="210.1" font-size="11.4" >25</text>
<text x="148.8" y="210.1" font-size="11.4" >29</text>
<text x="166.4" y="210.1" font-size="11.4" >33</text>
<text x="184.1" y="210.1" font-size="11.4" >37</text>
<text x="201.7" y="210.1" font-size="11.4" >41</text>
<text x="219.3" y="210.1" font-size="11.4" >45</text>
<text x="237.0" y="210.1" font-size="11.4" >49</text>
<text x="254.6" y="210.1" font-size="11.4" >53</text>
<text x="272.2" y="210.1" font-size="11.4" >57</text>
<text x="289.9" y="210.1" font-size="11.4" >61</text>
<text x="307.5" y="210.1" font-size="11.4" >65</text>
<path d="M28.4 465.2L313.7 465.2" stroke="#e2e7f1" stroke-width="1" />
<path d="M28.4 446.2L313.7 446.2" stroke="#e2e7f1" stroke-width="1" />
<path d="M28.4 427.2L313.7 427.2" stroke="#e2e7f1" stroke-width="1" />
<path d="M28.4 408.1L313.7 408.1" stroke="#e2e7f1" stroke-width="1" />
<path d="M28.4 389.1L313.7 389.1" stroke="#e2e7f1" stroke-width="1" />
<path d="M28.4 370.1L313.7 370.1" stroke="#e2e7f1" stroke-width="1" />
<path d="M28.4 360.6L313.7 360.6" stroke="#e2e7f1" stroke-width="1" />
<path d="M56.9 360.6L56.9 484.2" stroke="#e2e7f1" stroke-width="1" />
<path d="M85.5 360.6L85.5 484.2" stroke="#e2e7f1" stroke-width="1" />
<path d="M114.0 360.6L114.0 484.2" stroke="#e2e7f1" stroke-width="1" />
<path d="M142.5 360.6L142.5 484.2" stroke="#e2e7f1" stroke-width="1" />
<path d="M171.1 360.6L171.1 484.2" stroke="#e2e7f1" stroke-width="1" />
<path d="M199.6 360.6L199.6 484.2" stroke="#e2e7f1" stroke-width="1" />
<path d="M228.1 360.6L228.1 484.2" stroke="#e2e7f1" stroke-width="1" />
<path d="M256.6 360.6L256.6 484.2" stroke="#e2e7f1" stroke-width="1" />
<path d="M285.2 360.6L285.2 484.2" stroke="#e2e7f1" stroke-width="1" />
<path d="M313.7 360.6L313.7 484.2" stroke="#e2e7f1" stroke-width="1" />
<rect x="32.0" y="475.9" width="7.0" height="7.0" fill="#fde29a" />
<rect x="46.3" y="475.9" width="7.0" height="7.0" fill="#f47e55" />
<rect x="60.6" y="475.9" width="7.0" height="7.0" fill="#dc4a45" />
<rect x="74.8" y="475.9" width="7.0" height="7.0" fill="#cd3d4a" />
<rect x="89.1" y="475.9" width="7.0" height="7.0" fill="#d9484a" />
<rect x="103.4" y="475.9" width="7.0" height="7.0" fill="#d0404a" />
<rect x="117.6" y="475.9" width="7.0" height="7.0" fill="#c8364a" />
<rect x="131.9" y="475.9" width="7.0" height="7.0" fill="#d9484a" />
<rect x="146.2" y="475.9" width="7.0" height="7.0" fill="#e65a48" />
<rect x="160.4" y="475.9" width="7.0" height="7.0" fill="#e8644c" />
<rect x="174.7" y="475.9" width="7.0" height="7.0" fill="#e05548" />
<rect x="188.9" y="475.9" width="7.0" height="7.0" fill="#d9484a" />
<rect x="203.2" y="475.9" width="7.0" height="7.0" fill="#c93a4a" />
<rect x="217.5" y="475.9" width="7.0" height="7.0" fill="#d2424a" />
<rect x="231.7" y="475.9" width="7.0" height="7.0" fill="#b82848" />
<rect x="246.0" y="475.9" width="7.0" height="7.0" fill="#d9484a" />
<rect x="260.3" y="475.9" width="7.0" height="7.0" fill="#dc4a45" />
<rect x="274.5" y="475.9" width="7.0" height="7.0" fill="#e05548" />
<rect x="288.8" y="475.9" width="7.0" height="7.0" fill="#f89260" />
<rect x="303.1" y="475.9" width="7.0" height="7.0" fill="#fde29a" />
<rect x="103.4" y="466.4" width="7.0" height="7.0" fill="#fdd890" />
<rect x="231.7" y="466.4" width="7.0" height="7.0" fill="#fbb06a" />
<rect x="103.4" y="456.9" width="7.0" height="7.0" fill="#fdd890" />
<rect x="231.7" y="456.9" width="7.0" height="7.0" fill="#f99f62" />
<rect x="103.4" y="447.4" width="7.0" height="7.0" fill="#fdd58c" />
<rect x="231.7" y="447.4" width="7.0" height="7.0" fill="#f99f62" />
<rect x="103.4" y="437.9" width="7.0" height="7.0" fill="#fcc07a" />
<rect x="231.7" y="437.9" width="7.0" height="7.0" fill="#f6935c" />
<rect x="103.4" y="428.4" width="7.0" height="7.0" fill="#fcc07a" />
<rect x="231.7" y="428.4" width="7.0" height="7.0" fill="#f6935c" />
<rect x="103.4" y="418.9" width="7.0" height="7.0" fill="#fdcb82" />
<rect x="231.7" y="418.9" width="7.0" height="7.0" fill="#f48a58" />
<rect x="103.4" y="409.4" width="7.0" height="7.0" fill="#fbb670" />
<rect x="231.7" y="409.4" width="7.0" height="7.0" fill="#f48a58" />
<rect x="103.4" y="399.9" width="7.0" height="7.0" fill="#fbb36c" />
<rect x="231.7" y="399.9" width="7.0" height="7.0" fill="#f07a52" />
<rect x="103.4" y="390.4" width="7.0" height="7.0" fill="#f8a468" />
<rect x="231.7" y="390.4" width="7.0" height="7.0" fill="#ee7150" />
<rect x="103.4" y="380.9" width="7.0" height="7.0" fill="#f4915f" />
<rect x="231.7" y="380.9" width="7.0" height="7.0" fill="#ec6a4c" />
<rect x="103.4" y="371.4" width="7.0" height="7.0" fill="#ee7755" />
<rect x="231.7" y="371.4" width="7.0" height="7.0" fill="#e0524a" />
<rect x="103.4" y="361.9" width="7.0" height="7.0" fill="#e8604a" />
<rect x="231.7" y="361.9" width="7.0" height="7.0" fill="#cc3e4c" />
<path d="M28.4 360.1L28.4 484.7" stroke="#5c6275" stroke-width="1.1" />
<path d="M28.4 484.2L313.7 484.2" stroke="#5c6275" stroke-width="1.1" />
<path d="M24.1 484.2L28.4 484.2" stroke="#5c6275" stroke-width="1.1" />
<path d="M24.1 465.2L28.4 465.2" stroke="#5c6275" stroke-width="1.1" />
<path d="M24.1 446.2L28.4 446.2" stroke="#5c6275" stroke-width="1.1" />
<path d="M24.1 427.2L28.4 427.2" stroke="#5c6275" stroke-width="1.1" />
<path d="M24.1 408.1L28.4 408.1" stroke="#5c6275" stroke-width="1.1" />
<path d="M24.1 389.1L28.4 389.1" stroke="#5c6275" stroke-width="1.1" />
<path d="M24.1 370.1L28.4 370.1" stroke="#5c6275" stroke-width="1.1" />
<path d="M24.1 360.6L28.4 360.6" stroke="#5c6275" stroke-width="1.1" />
<path d="M28.4 484.2L28.4 488.5" stroke="#5c6275" stroke-width="1.1" />
<path d="M56.9 484.2L56.9 488.5" stroke="#5c6275" stroke-width="1.1" />
<path d="M85.5 484.2L85.5 488.5" stroke="#5c6275" stroke-width="1.1" />
<path d="M114.0 484.2L114.0 488.5" stroke="#5c6275" stroke-width="1.1" />
<path d="M142.5 484.2L142.5 488.5" stroke="#5c6275" stroke-width="1.1" />
<path d="M171.1 484.2L171.1 488.5" stroke="#5c6275" stroke-width="1.1" />
<path d="M199.6 484.2L199.6 488.5" stroke="#5c6275" stroke-width="1.1" />
<path d="M228.1 484.2L228.1 488.5" stroke="#5c6275" stroke-width="1.1" />
<path d="M256.6 484.2L256.6 488.5" stroke="#5c6275" stroke-width="1.1" />
<path d="M285.2 484.2L285.2 488.5" stroke="#5c6275" stroke-width="1.1" />
<path d="M313.7 484.2L313.7 488.5" stroke="#5c6275" stroke-width="1.1" />
<text x="21.3" y="483.4" font-size="11.1" text-anchor="end" >13</text>
<text x="21.3" y="464.4" font-size="11.1" text-anchor="end" >2</text>
<text x="21.3" y="445.4" font-size="11.1" text-anchor="end" >4</text>
<text x="21.3" y="426.4" font-size="11.1" text-anchor="end" >6</text>
<text x="21.3" y="407.4" font-size="11.1" text-anchor="end" >8</text>
<text x="21.3" y="388.4" font-size="11.1" text-anchor="end" >10</text>
<text x="21.3" y="369.3" font-size="11.1" text-anchor="end" >12</text>
<text x="35.5" y="500.4" font-size="11.1" >1</text>
<text x="64.1" y="500.4" font-size="11.1" >3</text>
<text x="92.6" y="500.4" font-size="11.1" >5</text>
<text x="121.1" y="500.4" font-size="11.1" >7</text>
<text x="149.7" y="500.4" font-size="11.1" >9</text>
<text x="178.2" y="500.4" font-size="11.1" >11</text>
<text x="206.7" y="500.4" font-size="11.1" >13</text>
<text x="235.2" y="500.4" font-size="11.1" >15</text>
<text x="263.8" y="500.4" font-size="11.1" >17</text>
<text x="292.3" y="500.4" font-size="11.1" >19</text>
<defs><filter id="blur2" x="-20%" y="-20%" width="140%" height="140%"><feGaussianBlur stdDeviation="2.2"/></filter></defs>
<path d="M506.4 8.0L506.4 122.0" stroke="#e9ecf0" stroke-width="1" />
<path d="M765.1 8.0L765.1 122.0" stroke="#e9ecf0" stroke-width="1" />
<path d="M506.4 122.0L765.1 122.0" stroke="#e9ecf0" stroke-width="1" />
<path d="M506.4 130.6L765.1 130.6" stroke="#e9ecf0" stroke-width="1" />
<path d="M516.6 19.0L520.9 19.0" stroke="#5470c6" stroke-width="1.35" />
<path d="M527.1 19.0L531.3 19.0" stroke="#5470c6" stroke-width="1.35" />
<circle cx="523.95" cy="19.00" r="3.1" fill="#fff" stroke="#5470c6" stroke-width="1.35"/>
<text transform="translate(534.2,21.7) scale(0.9,1)" font-size="8.1" text-anchor="start" fill="#333" >KM</text>
<path d="M552.5 19.0L556.7 19.0" stroke="#91cc75" stroke-width="1.35" />
<path d="M562.9 19.0L567.1 19.0" stroke="#91cc75" stroke-width="1.35" />
<circle cx="559.80" cy="19.00" r="3.1" fill="#fff" stroke="#91cc75" stroke-width="1.35"/>
<text transform="translate(569.8,21.7) scale(0.9,1)" font-size="8.1" text-anchor="start" fill="#333" >KM_DTW</text>
<path d="M608.1 19.0L612.4 19.0" stroke="#fac858" stroke-width="1.35" />
<path d="M618.6 19.0L622.8 19.0" stroke="#fac858" stroke-width="1.35" />
<circle cx="615.45" cy="19.00" r="3.1" fill="#fff" stroke="#fac858" stroke-width="1.35"/>
<text transform="translate(625.7,21.7) scale(0.9,1)" font-size="8.1" text-anchor="start" fill="#333" >KMeans</text>
<path d="M658.5 19.0L662.8 19.0" stroke="#ee6666" stroke-width="1.35" />
<path d="M669.0 19.0L673.2 19.0" stroke="#ee6666" stroke-width="1.35" />
<circle cx="665.85" cy="19.00" r="3.1" fill="#fff" stroke="#ee6666" stroke-width="1.35"/>
<text transform="translate(676.4,21.7) scale(0.9,1)" font-size="8.1" text-anchor="start" fill="#333" >AC</text>
<path d="M692.4 19.0L696.6 19.0" stroke="#73c0de" stroke-width="1.35" />
<path d="M702.8 19.0L707.0 19.0" stroke="#73c0de" stroke-width="1.35" />
<circle cx="699.70" cy="19.00" r="3.1" fill="#fff" stroke="#73c0de" stroke-width="1.35"/>
<text transform="translate(710.0,21.7) scale(0.9,1)" font-size="8.1" text-anchor="start" fill="#333" >AC_DTW</text>
<path d="M516.6 33.0L520.9 33.0" stroke="#3ba272" stroke-width="1.35" />
<path d="M527.1 33.0L531.3 33.0" stroke="#3ba272" stroke-width="1.35" />
<circle cx="523.95" cy="33.00" r="3.1" fill="#fff" stroke="#3ba272" stroke-width="1.35"/>
<text transform="translate(534.2,35.7) scale(0.9,1)" font-size="8.1" text-anchor="start" fill="#333" >SC</text>
<path d="M549.6 33.0L553.8 33.0" stroke="#fc8452" stroke-width="1.35" />
<path d="M560.0 33.0L564.2 33.0" stroke="#fc8452" stroke-width="1.35" />
<circle cx="556.90" cy="33.00" r="3.1" fill="#fff" stroke="#fc8452" stroke-width="1.35"/>
<text transform="translate(567.2,35.7) scale(0.9,1)" font-size="8.1" text-anchor="start" fill="#333" >Birch</text>
<path d="M523.4 104.4L761.9 104.4" stroke="#e2e7f1" stroke-width="0.9" />
<path d="M523.4 96.4L761.9 96.4" stroke="#e2e7f1" stroke-width="0.9" />
<path d="M523.4 88.4L761.9 88.4" stroke="#e2e7f1" stroke-width="0.9" />
<path d="M523.4 80.4L761.9 80.4" stroke="#e2e7f1" stroke-width="0.9" />
<path d="M523.4 72.4L761.9 72.4" stroke="#e2e7f1" stroke-width="0.9" />
<path d="M523.4 64.4L761.9 64.4" stroke="#e2e7f1" stroke-width="0.9" />
<path d="M523.4 56.4L761.9 56.4" stroke="#e2e7f1" stroke-width="0.9" />
<path d="M523.4 48.4L761.9 48.4" stroke="#e2e7f1" stroke-width="0.9" />
<path d="M523.4 48.4L523.4 104.4" stroke="#e2e7f1" stroke-width="0.9" />
<path d="M557.5 48.4L557.5 104.4" stroke="#e2e7f1" stroke-width="0.9" />
<path d="M591.5 48.4L591.5 104.4" stroke="#e2e7f1" stroke-width="0.9" />
<path d="M625.6 48.4L625.6 104.4" stroke="#e2e7f1" stroke-width="0.9" />
<path d="M659.7 48.4L659.7 104.4" stroke="#e2e7f1" stroke-width="0.9" />
<path d="M693.8 48.4L693.8 104.4" stroke="#e2e7f1" stroke-width="0.9" />
<path d="M727.8 48.4L727.8 104.4" stroke="#e2e7f1" stroke-width="0.9" />
<path d="M761.9 48.4L761.9 104.4" stroke="#e2e7f1" stroke-width="0.9" />
<path d="M523.4 48.4L523.4 104.4" stroke="#6e7280" stroke-width="0.9" />
<path d="M523.4 104.4L761.9 104.4" stroke="#6e7280" stroke-width="0.9" />
<path d="M523.4 104.4L523.4 107.6" stroke="#6e7280" stroke-width="0.9" />
<text x="523.4" y="116.0" font-size="8.0" >2</text>
<path d="M557.5 104.4L557.5 107.6" stroke="#6e7280" stroke-width="0.9" />
<text x="557.5" y="116.0" font-size="8.0" >3</text>
<path d="M591.5 104.4L591.5 107.6" stroke="#6e7280" stroke-width="0.9" />
<text x="591.5" y="116.0" font-size="8.0" >4</text>
<path d="M625.6 104.4L625.6 107.6" stroke="#6e7280" stroke-width="0.9" />
<text x="625.6" y="116.0" font-size="8.0" >5</text>
<path d="M659.7 104.4L659.7 107.6" stroke="#6e7280" stroke-width="0.9" />
<text x="659.7" y="116.0" font-size="8.0" >6</text>
<path d="M693.8 104.4L693.8 107.6" stroke="#6e7280" stroke-width="0.9" />
<text x="693.8" y="116.0" font-size="8.0" >7</text>
<path d="M727.8 104.4L727.8 107.6" stroke="#6e7280" stroke-width="0.9" />
<text x="727.8" y="116.0" font-size="8.0" >8</text>
<path d="M761.9 104.4L761.9 107.6" stroke="#6e7280" stroke-width="0.9" />
<text x="761.9" y="116.0" font-size="8.0" >9</text>
<path d="M520.4 104.4L523.4 104.4" stroke="#6e7280" stroke-width="0.9" />
<text x="519.5" y="106.6" font-size="8.0" text-anchor="end" >0</text>
<path d="M520.4 96.4L523.4 96.4" stroke="#6e7280" stroke-width="0.9" />
<text x="519.5" y="98.6" font-size="8.0" text-anchor="end" >0.1</text>
<path d="M520.4 88.4L523.4 88.4" stroke="#6e7280" stroke-width="0.9" />
<text x="519.5" y="90.6" font-size="8.0" text-anchor="end" >0.2</text>
<path d="M520.4 80.4L523.4 80.4" stroke="#6e7280" stroke-width="0.9" />
<text x="519.5" y="82.6" font-size="8.0" text-anchor="end" >0.3</text>
<path d="M520.4 72.4L523.4 72.4" stroke="#6e7280" stroke-width="0.9" />
<text x="519.5" y="74.6" font-size="8.0" text-anchor="end" >0.4</text>
<path d="M520.4 64.4L523.4 64.4" stroke="#6e7280" stroke-width="0.9" />
<text x="519.5" y="66.6" font-size="8.0" text-anchor="end" >0.5</text>
<path d="M520.4 56.4L523.4 56.4" stroke="#6e7280" stroke-width="0.9" />
<text x="519.5" y="58.6" font-size="8.0" text-anchor="end" >0.6</text>
<path d="M520.4 48.4L523.4 48.4" stroke="#6e7280" stroke-width="0.9" />
<text x="519.5" y="50.6" font-size="8.0" text-anchor="end" >0.7</text>
<polyline points="523.4,68.4 557.5,74.0 591.5,78.8 625.6,81.2 659.7,81.2 693.8,80.4 727.8,80.4 761.9,79.6" fill="none" stroke="#5470c6" stroke-width="1.65" stroke-linejoin="round"/>
<circle cx="523.4" cy="68.4" r="1.45" fill="#fff" stroke="#5470c6" stroke-width="0.9"/>
<circle cx="557.5" cy="74.0" r="1.45" fill="#fff" stroke="#5470c6" stroke-width="0.9"/>
<circle cx="591.5" cy="78.8" r="1.45" fill="#fff" stroke="#5470c6" stroke-width="0.9"/>
<circle cx="625.6" cy="81.2" r="1.45" fill="#fff" stroke="#5470c6" stroke-width="0.9"/>
<circle cx="659.7" cy="81.2" r="1.45" fill="#fff" stroke="#5470c6" stroke-width="0.9"/>
<circle cx="693.8" cy="80.4" r="1.45" fill="#fff" stroke="#5470c6" stroke-width="0.9"/>
<circle cx="727.8" cy="80.4" r="1.45" fill="#fff" stroke="#5470c6" stroke-width="0.9"/>
<circle cx="761.9" cy="79.6" r="1.45" fill="#fff" stroke="#5470c6" stroke-width="0.9"/>
<polyline points="523.4,62.8 557.5,69.2 591.5,68.4 625.6,76.4 659.7,74.0 693.8,72.4 727.8,70.8 761.9,70.0" fill="none" stroke="#91cc75" stroke-width="1.65" stroke-linejoin="round"/>
<circle cx="523.4" cy="62.8" r="1.45" fill="#fff" stroke="#91cc75" stroke-width="0.9"/>
<circle cx="557.5" cy="69.2" r="1.45" fill="#fff" stroke="#91cc75" stroke-width="0.9"/>
<circle cx="591.5" cy="68.4" r="1.45" fill="#fff" stroke="#91cc75" stroke-width="0.9"/>
<circle cx="625.6" cy="76.4" r="1.45" fill="#fff" stroke="#91cc75" stroke-width="0.9"/>
<circle cx="659.7" cy="74.0" r="1.45" fill="#fff" stroke="#91cc75" stroke-width="0.9"/>
<circle cx="693.8" cy="72.4" r="1.45" fill="#fff" stroke="#91cc75" stroke-width="0.9"/>
<circle cx="727.8" cy="70.8" r="1.45" fill="#fff" stroke="#91cc75" stroke-width="0.9"/>
<circle cx="761.9" cy="70.0" r="1.45" fill="#fff" stroke="#91cc75" stroke-width="0.9"/>
<polyline points="523.4,59.6 557.5,66.0 591.5,69.2 625.6,72.4 659.7,75.6 693.8,76.4 727.8,76.4 761.9,77.2" fill="none" stroke="#fac858" stroke-width="1.65" stroke-linejoin="round"/>
<circle cx="523.4" cy="59.6" r="1.45" fill="#fff" stroke="#fac858" stroke-width="0.9"/>
<circle cx="557.5" cy="66.0" r="1.45" fill="#fff" stroke="#fac858" stroke-width="0.9"/>
<circle cx="591.5" cy="69.2" r="1.45" fill="#fff" stroke="#fac858" stroke-width="0.9"/>
<circle cx="625.6" cy="72.4" r="1.45" fill="#fff" stroke="#fac858" stroke-width="0.9"/>
<circle cx="659.7" cy="75.6" r="1.45" fill="#fff" stroke="#fac858" stroke-width="0.9"/>
<circle cx="693.8" cy="76.4" r="1.45" fill="#fff" stroke="#fac858" stroke-width="0.9"/>
<circle cx="727.8" cy="76.4" r="1.45" fill="#fff" stroke="#fac858" stroke-width="0.9"/>
<circle cx="761.9" cy="77.2" r="1.45" fill="#fff" stroke="#fac858" stroke-width="0.9"/>
<polyline points="523.4,53.2 557.5,50.0 591.5,67.6 625.6,70.0 659.7,70.0 693.8,74.0 727.8,72.4 761.9,74.0" fill="none" stroke="#ee6666" stroke-width="1.65" stroke-linejoin="round"/>
<circle cx="523.4" cy="53.2" r="1.45" fill="#fff" stroke="#ee6666" stroke-width="0.9"/>
<circle cx="557.5" cy="50.0" r="1.45" fill="#fff" stroke="#ee6666" stroke-width="0.9"/>
<circle cx="591.5" cy="67.6" r="1.45" fill="#fff" stroke="#ee6666" stroke-width="0.9"/>
<circle cx="625.6" cy="70.0" r="1.45" fill="#fff" stroke="#ee6666" stroke-width="0.9"/>
<circle cx="659.7" cy="70.0" r="1.45" fill="#fff" stroke="#ee6666" stroke-width="0.9"/>
<circle cx="693.8" cy="74.0" r="1.45" fill="#fff" stroke="#ee6666" stroke-width="0.9"/>
<circle cx="727.8" cy="72.4" r="1.45" fill="#fff" stroke="#ee6666" stroke-width="0.9"/>
<circle cx="761.9" cy="74.0" r="1.45" fill="#fff" stroke="#ee6666" stroke-width="0.9"/>
<polyline points="523.4,63.6 557.5,66.8 591.5,64.4 625.6,62.8 659.7,63.6 693.8,66.0 727.8,68.4 761.9,70.8" fill="none" stroke="#73c0de" stroke-width="1.65" stroke-linejoin="round"/>
<circle cx="523.4" cy="63.6" r="1.45" fill="#fff" stroke="#73c0de" stroke-width="0.9"/>
<circle cx="557.5" cy="66.8" r="1.45" fill="#fff" stroke="#73c0de" stroke-width="0.9"/>
<circle cx="591.5" cy="64.4" r="1.45" fill="#fff" stroke="#73c0de" stroke-width="0.9"/>
<circle cx="625.6" cy="62.8" r="1.45" fill="#fff" stroke="#73c0de" stroke-width="0.9"/>
<circle cx="659.7" cy="63.6" r="1.45" fill="#fff" stroke="#73c0de" stroke-width="0.9"/>
<circle cx="693.8" cy="66.0" r="1.45" fill="#fff" stroke="#73c0de" stroke-width="0.9"/>
<circle cx="727.8" cy="68.4" r="1.45" fill="#fff" stroke="#73c0de" stroke-width="0.9"/>
<circle cx="761.9" cy="70.8" r="1.45" fill="#fff" stroke="#73c0de" stroke-width="0.9"/>
<polyline points="523.4,53.2 557.5,50.0 591.5,51.6 625.6,64.4 659.7,66.8 693.8,58.8 727.8,58.8 761.9,59.6" fill="none" stroke="#3ba272" stroke-width="1.65" stroke-linejoin="round"/>
<circle cx="523.4" cy="53.2" r="1.45" fill="#fff" stroke="#3ba272" stroke-width="0.9"/>
<circle cx="557.5" cy="50.0" r="1.45" fill="#fff" stroke="#3ba272" stroke-width="0.9"/>
<circle cx="591.5" cy="51.6" r="1.45" fill="#fff" stroke="#3ba272" stroke-width="0.9"/>
<circle cx="625.6" cy="64.4" r="1.45" fill="#fff" stroke="#3ba272" stroke-width="0.9"/>
<circle cx="659.7" cy="66.8" r="1.45" fill="#fff" stroke="#3ba272" stroke-width="0.9"/>
<circle cx="693.8" cy="58.8" r="1.45" fill="#fff" stroke="#3ba272" stroke-width="0.9"/>
<circle cx="727.8" cy="58.8" r="1.45" fill="#fff" stroke="#3ba272" stroke-width="0.9"/>
<circle cx="761.9" cy="59.6" r="1.45" fill="#fff" stroke="#3ba272" stroke-width="0.9"/>
<polyline points="523.4,58.8 557.5,62.8 591.5,71.6 625.6,72.4 659.7,77.2 693.8,78.0 727.8,78.0 761.9,78.8" fill="none" stroke="#fc8452" stroke-width="1.65" stroke-linejoin="round"/>
<circle cx="523.4" cy="58.8" r="1.45" fill="#fff" stroke="#fc8452" stroke-width="0.9"/>
<circle cx="557.5" cy="62.8" r="1.45" fill="#fff" stroke="#fc8452" stroke-width="0.9"/>
<circle cx="591.5" cy="71.6" r="1.45" fill="#fff" stroke="#fc8452" stroke-width="0.9"/>
<circle cx="625.6" cy="72.4" r="1.45" fill="#fff" stroke="#fc8452" stroke-width="0.9"/>
<circle cx="659.7" cy="77.2" r="1.45" fill="#fff" stroke="#fc8452" stroke-width="0.9"/>
<circle cx="693.8" cy="78.0" r="1.45" fill="#fff" stroke="#fc8452" stroke-width="0.9"/>
<circle cx="727.8" cy="78.0" r="1.45" fill="#fff" stroke="#fc8452" stroke-width="0.9"/>
<circle cx="761.9" cy="78.8" r="1.45" fill="#fff" stroke="#fc8452" stroke-width="0.9"/>
<rect x="520.3" y="47.6" width="9.7" height="24.9" fill="none" stroke="#000" stroke-width="1" stroke-dasharray="3.2,1.6"/>
<rect x="651.5" y="19.4" width="102.0" height="112.39999999999999" rx="3" fill="#000" fill-opacity="0.13" filter="url(#blur2)"/>
<rect x="650.9" y="18.2" width="102.0" height="112.39999999999999" rx="3" fill="#fff" fill-opacity="0.88"/>
<text x="657.7" y="34.2" font-size="8.8" text-anchor="start" fill="#555" >Cluster_2</text>
<circle cx="661.1" cy="43.9" r="2.7" fill="#ee6666"/>
<text x="666.2" y="46.9" font-size="8.4" text-anchor="start" fill="#4a4a4a" >AC : 0.64</text>
<circle cx="661.1" cy="56.4" r="2.7" fill="#3ba272"/>
<text x="666.2" y="59.5" font-size="8.4" text-anchor="start" fill="#4a4a4a" >SC : 0.64</text>
<circle cx="661.1" cy="69.0" r="2.7" fill="#fc8452"/>
<text x="666.2" y="72.0" font-size="8.4" text-anchor="start" fill="#4a4a4a" >Birch : 0.57</text>
<circle cx="661.1" cy="81.5" r="2.7" fill="#fac858"/>
<text x="666.2" y="84.5" font-size="8.4" text-anchor="start" fill="#4a4a4a" >KMeans : 0.56</text>
<circle cx="661.1" cy="94.0" r="2.7" fill="#91cc75"/>
<text x="666.2" y="97.0" font-size="8.4" text-anchor="start" fill="#4a4a4a" >KM_DTW : 0.52</text>
<circle cx="661.1" cy="106.5" r="2.7" fill="#73c0de"/>
<text x="666.2" y="109.6" font-size="8.4" text-anchor="start" fill="#4a4a4a" >AC_DTW : 0.51</text>
<circle cx="661.1" cy="119.1" r="2.7" fill="#5470c6"/>
<text x="666.2" y="122.1" font-size="8.4" text-anchor="start" fill="#4a4a4a" >KM : 0.45</text>
<path d="M516.0 139.2L766.4 139.2" stroke="#e2e7f1" stroke-width="0.9" />
<path d="M516.0 152.7L766.4 152.7" stroke="#e2e7f1" stroke-width="0.9" />
<path d="M516.0 166.2L766.4 166.2" stroke="#e2e7f1" stroke-width="0.9" />
<path d="M516.0 179.8L766.4 179.8" stroke="#e2e7f1" stroke-width="0.9" />
<path d="M516.0 193.3L766.4 193.3" stroke="#e2e7f1" stroke-width="0.9" />
<path d="M516.0 206.8L766.4 206.8" stroke="#e2e7f1" stroke-width="0.9" />
<path d="M516.0 220.3L766.4 220.3" stroke="#e2e7f1" stroke-width="0.9" />
<path d="M516.0 233.9L766.4 233.9" stroke="#e2e7f1" stroke-width="0.9" />
<path d="M531.4 139.2L531.4 247.4" stroke="#e2e7f1" stroke-width="0.9" />
<path d="M546.8 139.2L546.8 247.4" stroke="#e2e7f1" stroke-width="0.9" />
<path d="M562.2 139.2L562.2 247.4" stroke="#e2e7f1" stroke-width="0.9" />
<path d="M577.6 139.2L577.6 247.4" stroke="#e2e7f1" stroke-width="0.9" />
<path d="M593.0 139.2L593.0 247.4" stroke="#e2e7f1" stroke-width="0.9" />
<path d="M608.5 139.2L608.5 247.4" stroke="#e2e7f1" stroke-width="0.9" />
<path d="M623.9 139.2L623.9 247.4" stroke="#e2e7f1" stroke-width="0.9" />
<path d="M639.3 139.2L639.3 247.4" stroke="#e2e7f1" stroke-width="0.9" />
<path d="M654.7 139.2L654.7 247.4" stroke="#e2e7f1" stroke-width="0.9" />
<path d="M670.1 139.2L670.1 247.4" stroke="#e2e7f1" stroke-width="0.9" />
<path d="M685.5 139.2L685.5 247.4" stroke="#e2e7f1" stroke-width="0.9" />
<path d="M700.9 139.2L700.9 247.4" stroke="#e2e7f1" stroke-width="0.9" />
<path d="M716.3 139.2L716.3 247.4" stroke="#e2e7f1" stroke-width="0.9" />
<path d="M731.7 139.2L731.7 247.4" stroke="#e2e7f1" stroke-width="0.9" />
<path d="M747.1 139.2L747.1 247.4" stroke="#e2e7f1" stroke-width="0.9" />
<path d="M762.5 139.2L762.5 247.4" stroke="#e2e7f1" stroke-width="0.9" />
<path d="M766.4 139.2L766.4 247.4" stroke="#e2e7f1" stroke-width="0.9" />
<path d="M516.0 138.7L516.0 247.9" stroke="#6e7280" stroke-width="1" />
<path d="M516.0 247.4L766.4 247.4" stroke="#6e7280" stroke-width="1" />
<path d="M512.4 139.2L516.0 139.2" stroke="#6e7280" stroke-width="1" />
<path d="M512.4 152.7L516.0 152.7" stroke="#6e7280" stroke-width="1" />
<path d="M512.4 166.2L516.0 166.2" stroke="#c9ccd4" stroke-width="1" />
<path d="M512.4 179.8L516.0 179.8" stroke="#6e7280" stroke-width="1" />
<path d="M512.4 193.3L516.0 193.3" stroke="#c9ccd4" stroke-width="1" />
<path d="M512.4 206.8L516.0 206.8" stroke="#6e7280" stroke-width="1" />
<path d="M512.4 220.3L516.0 220.3" stroke="#c9ccd4" stroke-width="1" />
<path d="M512.4 233.9L516.0 233.9" stroke="#6e7280" stroke-width="1" />
<path d="M512.4 247.4L516.0 247.4" stroke="#6e7280" stroke-width="1" />
<path d="M516.0 247.4L516.0 251.0" stroke="#6e7280" stroke-width="1" />
<path d="M531.4 247.4L531.4 251.0" stroke="#6e7280" stroke-width="1" />
<path d="M546.8 247.4L546.8 251.0" stroke="#6e7280" stroke-width="1" />
<path d="M562.2 247.4L562.2 251.0" stroke="#6e7280" stroke-width="1" />
<path d="M577.6 247.4L577.6 251.0" stroke="#6e7280" stroke-width="1" />
<path d="M593.0 247.4L593.0 251.0" stroke="#6e7280" stroke-width="1" />
<path d="M608.5 247.4L608.5 251.0" stroke="#6e7280" stroke-width="1" />
<path d="M623.9 247.4L623.9 251.0" stroke="#6e7280" stroke-width="1" />
<path d="M639.3 247.4L639.3 251.0" stroke="#6e7280" stroke-width="1" />
<path d="M654.7 247.4L654.7 251.0" stroke="#6e7280" stroke-width="1" />
<path d="M670.1 247.4L670.1 251.0" stroke="#6e7280" stroke-width="1" />
<path d="M685.5 247.4L685.5 251.0" stroke="#6e7280" stroke-width="1" />
<path d="M700.9 247.4L700.9 251.0" stroke="#6e7280" stroke-width="1" />
<path d="M716.3 247.4L716.3 251.0" stroke="#6e7280" stroke-width="1" />
<path d="M731.7 247.4L731.7 251.0" stroke="#6e7280" stroke-width="1" />
<path d="M747.1 247.4L747.1 251.0" stroke="#6e7280" stroke-width="1" />
<path d="M762.5 247.4L762.5 251.0" stroke="#6e7280" stroke-width="1" />
<path d="M766.4 247.4L766.4 251.0" stroke="#6e7280" stroke-width="1" />
<rect x="515.0" y="142.8" width="77.6" height="6.3" fill="#6b8e65" />
<rect x="592.6" y="142.8" width="160.5" height="6.3" fill="#6aa3cb" />
<rect x="753.1" y="142.8" width="10.1" height="6.3" fill="#6b8e65" />
<text x="510.3" y="149.4" font-size="9.6" text-anchor="end" >8</text>
<rect x="515.0" y="156.3" width="77.6" height="6.3" fill="#6b8e65" />
<rect x="592.6" y="156.3" width="160.5" height="6.3" fill="#6aa3cb" />
<rect x="753.1" y="156.3" width="10.1" height="6.3" fill="#6b8e65" />
<rect x="570.7" y="155.8" width="2.3" height="7.3" fill="#fff" />
<text x="510.3" y="162.9" font-size="9.6" text-anchor="end" >7</text>
<rect x="515.0" y="169.9" width="77.6" height="6.3" fill="#6b8e65" />
<rect x="592.6" y="169.9" width="160.5" height="6.3" fill="#6aa3cb" />
<rect x="753.1" y="169.9" width="10.1" height="6.3" fill="#6b8e65" />
<text x="510.3" y="176.5" font-size="9.6" text-anchor="end" >6</text>
<rect x="515.0" y="183.4" width="77.6" height="6.3" fill="#6b8e65" />
<rect x="592.6" y="183.4" width="160.5" height="6.3" fill="#6aa3cb" />
<rect x="753.1" y="183.4" width="10.1" height="6.3" fill="#6b8e65" />
<text x="510.3" y="190.0" font-size="9.6" text-anchor="end" >5</text>
<rect x="515.0" y="196.9" width="77.6" height="6.3" fill="#6b8e65" />
<rect x="592.6" y="196.9" width="160.5" height="6.3" fill="#6aa3cb" />
<rect x="753.1" y="196.9" width="10.1" height="6.3" fill="#6b8e65" />
<rect x="528.6" y="196.4" width="2.1" height="7.3" fill="#fff" />
<text x="510.3" y="203.5" font-size="9.6" text-anchor="end" >4</text>
<rect x="515.0" y="210.4" width="77.6" height="6.3" fill="#6b8e65" />
<rect x="592.6" y="210.4" width="160.5" height="6.3" fill="#6aa3cb" />
<rect x="753.1" y="210.4" width="10.1" height="6.3" fill="#6b8e65" />
<text x="510.3" y="217.0" font-size="9.6" text-anchor="end" >3</text>
<rect x="515.0" y="224.0" width="81.4" height="6.3" fill="#6b8e65" />
<rect x="596.4" y="224.0" width="156.7" height="6.3" fill="#6aa3cb" />
<rect x="753.1" y="224.0" width="10.1" height="6.3" fill="#6b8e65" />
<rect x="605.1" y="223.5" width="2.3" height="7.3" fill="#fff" />
<text x="510.3" y="230.6" font-size="9.6" text-anchor="end" >2</text>
<rect x="515.0" y="237.5" width="81.4" height="6.3" fill="#6b8e65" />
<rect x="596.4" y="237.5" width="156.7" height="6.3" fill="#6aa3cb" />
<rect x="753.1" y="237.5" width="14.0" height="6.3" fill="#6b8e65" />
<rect x="647.7" y="237.0" width="2.3" height="7.3" fill="#fff" />
<text x="510.3" y="244.1" font-size="9.6" text-anchor="end" >1</text>
<text x="517.9" y="261.5" font-size="9.6" >1</text>
<text x="533.3" y="261.5" font-size="9.6" >5</text>
<text x="548.7" y="261.5" font-size="9.6" >9</text>
<text x="564.2" y="261.5" font-size="9.6" >13</text>
<text x="579.6" y="261.5" font-size="9.6" >17</text>
<text x="595.0" y="261.5" font-size="9.6" >21</text>
<text x="610.4" y="261.5" font-size="9.6" >25</text>
<text x="625.8" y="261.5" font-size="9.6" >29</text>
<text x="641.2" y="261.5" font-size="9.6" >33</text>
<text x="656.6" y="261.5" font-size="9.6" >37</text>
<text x="672.0" y="261.5" font-size="9.6" >41</text>
<text x="687.4" y="261.5" font-size="9.6" >45</text>
<text x="702.8" y="261.5" font-size="9.6" >49</text>
<text x="718.2" y="261.5" font-size="9.6" >53</text>
<text x="733.7" y="261.5" font-size="9.6" >57</text>
<text x="749.1" y="261.5" font-size="9.6" >61</text>
<text x="764.5" y="261.5" font-size="9.6" >65</text>
<path d="M495.9 312.0L495.9 432.5" stroke="#e9ecf0" stroke-width="1" />
<path d="M765.1 312.0L765.1 432.5" stroke="#e9ecf0" stroke-width="1" />
<path d="M495.9 432.5L765.1 432.5" stroke="#e9ecf0" stroke-width="1" />
<rect x="495.9" y="440.2" width="269.2" height="7.4" fill="#eceff1" />
<path d="M506.4 324.9L510.6 324.9" stroke="#5470c6" stroke-width="1.35" />
<path d="M516.8 324.9L521.0 324.9" stroke="#5470c6" stroke-width="1.35" />
<circle cx="513.70" cy="324.90" r="3.1" fill="#fff" stroke="#5470c6" stroke-width="1.35"/>
<text transform="translate(524.7,327.6) scale(0.9,1)" font-size="8.1" text-anchor="start" fill="#333" >KM</text>
<path d="M543.5 324.9L547.7 324.9" stroke="#91cc75" stroke-width="1.35" />
<path d="M553.9 324.9L558.1 324.9" stroke="#91cc75" stroke-width="1.35" />
<circle cx="550.80" cy="324.90" r="3.1" fill="#fff" stroke="#91cc75" stroke-width="1.35"/>
<text transform="translate(561.3,327.6) scale(0.9,1)" font-size="8.1" text-anchor="start" fill="#333" >KM_DTW</text>
<path d="M600.8 324.9L605.0 324.9" stroke="#fac858" stroke-width="1.35" />
<path d="M611.2 324.9L615.5 324.9" stroke="#fac858" stroke-width="1.35" />
<circle cx="608.15" cy="324.90" r="3.1" fill="#fff" stroke="#fac858" stroke-width="1.35"/>
<text transform="translate(619.1,327.6) scale(0.9,1)" font-size="8.1" text-anchor="start" fill="#333" >KMeans</text>
<path d="M654.5 324.9L658.8 324.9" stroke="#ee6666" stroke-width="1.35" />
<path d="M665.0 324.9L669.2 324.9" stroke="#ee6666" stroke-width="1.35" />
<circle cx="661.85" cy="324.90" r="3.1" fill="#fff" stroke="#ee6666" stroke-width="1.35"/>
<text transform="translate(672.8,327.6) scale(0.9,1)" font-size="8.1" text-anchor="start" fill="#333" >AC</text>
<path d="M688.7 324.9L692.9 324.9" stroke="#73c0de" stroke-width="1.35" />
<path d="M699.1 324.9L703.3 324.9" stroke="#73c0de" stroke-width="1.35" />
<circle cx="696.00" cy="324.90" r="3.1" fill="#fff" stroke="#73c0de" stroke-width="1.35"/>
<text transform="translate(707.0,327.6) scale(0.9,1)" font-size="8.1" text-anchor="start" fill="#333" >AC_DTW</text>
<path d="M506.4 339.0L510.6 339.0" stroke="#3ba272" stroke-width="1.35" />
<path d="M516.8 339.0L521.0 339.0" stroke="#3ba272" stroke-width="1.35" />
<circle cx="513.70" cy="339.00" r="3.1" fill="#fff" stroke="#3ba272" stroke-width="1.35"/>
<text transform="translate(524.7,341.7) scale(0.9,1)" font-size="8.1" text-anchor="start" fill="#333" >SC</text>
<path d="M539.8 339.0L544.0 339.0" stroke="#fc8452" stroke-width="1.35" />
<path d="M550.2 339.0L554.4 339.0" stroke="#fc8452" stroke-width="1.35" />
<circle cx="547.10" cy="339.00" r="3.1" fill="#fff" stroke="#fc8452" stroke-width="1.35"/>
<text transform="translate(558.4,341.7) scale(0.9,1)" font-size="8.1" text-anchor="start" fill="#333" >Birch</text>
<path d="M513.4 406.2L760.7 406.2" stroke="#e2e7f1" stroke-width="0.9" />
<path d="M513.4 398.9L760.7 398.9" stroke="#e2e7f1" stroke-width="0.9" />
<path d="M513.4 391.5L760.7 391.5" stroke="#e2e7f1" stroke-width="0.9" />
<path d="M513.4 384.1L760.7 384.1" stroke="#e2e7f1" stroke-width="0.9" />
<path d="M513.4 376.8L760.7 376.8" stroke="#e2e7f1" stroke-width="0.9" />
<path d="M513.4 369.4L760.7 369.4" stroke="#e2e7f1" stroke-width="0.9" />
<path d="M513.4 362.0L760.7 362.0" stroke="#e2e7f1" stroke-width="0.9" />
<path d="M513.4 354.6L760.7 354.6" stroke="#e2e7f1" stroke-width="0.9" />
<path d="M513.4 354.6L513.4 413.6" stroke="#e2e7f1" stroke-width="0.9" />
<path d="M548.7 354.6L548.7 413.6" stroke="#e2e7f1" stroke-width="0.9" />
<path d="M584.1 354.6L584.1 413.6" stroke="#e2e7f1" stroke-width="0.9" />
<path d="M619.4 354.6L619.4 413.6" stroke="#e2e7f1" stroke-width="0.9" />
<path d="M654.7 354.6L654.7 413.6" stroke="#e2e7f1" stroke-width="0.9" />
<path d="M690.0 354.6L690.0 413.6" stroke="#e2e7f1" stroke-width="0.9" />
<path d="M725.4 354.6L725.4 413.6" stroke="#e2e7f1" stroke-width="0.9" />
<path d="M760.7 354.6L760.7 413.6" stroke="#e2e7f1" stroke-width="0.9" />
<path d="M513.4 354.6L513.4 413.6" stroke="#6e7280" stroke-width="0.9" />
<path d="M513.4 413.6L760.7 413.6" stroke="#6e7280" stroke-width="0.9" />
<path d="M513.4 413.6L513.4 416.8" stroke="#6e7280" stroke-width="0.9" />
<text x="513.4" y="424.0" font-size="8.0" >2</text>
<path d="M548.7 413.6L548.7 416.8" stroke="#6e7280" stroke-width="0.9" />
<text x="548.7" y="424.0" font-size="8.0" >3</text>
<path d="M584.1 413.6L584.1 416.8" stroke="#6e7280" stroke-width="0.9" />
<text x="584.1" y="424.0" font-size="8.0" >4</text>
<path d="M619.4 413.6L619.4 416.8" stroke="#6e7280" stroke-width="0.9" />
<text x="619.4" y="424.0" font-size="8.0" >5</text>
<path d="M654.7 413.6L654.7 416.8" stroke="#6e7280" stroke-width="0.9" />
<text x="654.7" y="424.0" font-size="8.0" >6</text>
<path d="M690.0 413.6L690.0 416.8" stroke="#6e7280" stroke-width="0.9" />
<text x="690.0" y="424.0" font-size="8.0" >7</text>
<path d="M725.4 413.6L725.4 416.8" stroke="#6e7280" stroke-width="0.9" />
<text x="725.4" y="424.0" font-size="8.0" >8</text>
<path d="M760.7 413.6L760.7 416.8" stroke="#6e7280" stroke-width="0.9" />
<text x="760.7" y="424.0" font-size="8.0" >9</text>
<path d="M510.4 406.2L513.4 406.2" stroke="#6e7280" stroke-width="0.9" />
<text x="509.8" y="408.4" font-size="8.0" text-anchor="end" >0.1</text>
<path d="M510.4 398.9L513.4 398.9" stroke="#6e7280" stroke-width="0.9" />
<text x="509.8" y="401.0" font-size="8.0" text-anchor="end" >0.2</text>
<path d="M510.4 391.5L513.4 391.5" stroke="#6e7280" stroke-width="0.9" />
<text x="509.8" y="393.7" font-size="8.0" text-anchor="end" >0.3</text>
<path d="M510.4 384.1L513.4 384.1" stroke="#6e7280" stroke-width="0.9" />
<text x="509.8" y="386.3" font-size="8.0" text-anchor="end" >0.4</text>
<path d="M510.4 376.8L513.4 376.8" stroke="#6e7280" stroke-width="0.9" />
<text x="509.8" y="378.9" font-size="8.0" text-anchor="end" >0.5</text>
<path d="M510.4 369.4L513.4 369.4" stroke="#6e7280" stroke-width="0.9" />
<text x="509.8" y="371.6" font-size="8.0" text-anchor="end" >0.6</text>
<path d="M510.4 362.0L513.4 362.0" stroke="#6e7280" stroke-width="0.9" />
<text x="509.8" y="364.2" font-size="8.0" text-anchor="end" >0.7</text>
<polyline points="513.4,370.9 548.7,372.3 584.1,379.7 619.4,384.1 654.7,384.9 690.0,389.3 725.4,393.0 760.7,393.0" fill="none" stroke="#5470c6" stroke-width="1.65" stroke-linejoin="round"/>
<circle cx="513.4" cy="370.9" r="1.45" fill="#fff" stroke="#5470c6" stroke-width="0.9"/>
<circle cx="548.7" cy="372.3" r="1.45" fill="#fff" stroke="#5470c6" stroke-width="0.9"/>
<circle cx="584.1" cy="379.7" r="1.45" fill="#fff" stroke="#5470c6" stroke-width="0.9"/>
<circle cx="619.4" cy="384.1" r="1.45" fill="#fff" stroke="#5470c6" stroke-width="0.9"/>
<circle cx="654.7" cy="384.9" r="1.45" fill="#fff" stroke="#5470c6" stroke-width="0.9"/>
<circle cx="690.0" cy="389.3" r="1.45" fill="#fff" stroke="#5470c6" stroke-width="0.9"/>
<circle cx="725.4" cy="393.0" r="1.45" fill="#fff" stroke="#5470c6" stroke-width="0.9"/>
<circle cx="760.7" cy="393.0" r="1.45" fill="#fff" stroke="#5470c6" stroke-width="0.9"/>
<polyline points="513.4,365.7 548.7,370.9 584.1,373.8 619.4,379.0 654.7,384.1 690.0,390.0 725.4,398.9 760.7,404.0" fill="none" stroke="#91cc75" stroke-width="1.65" stroke-linejoin="round"/>
<circle cx="513.4" cy="365.7" r="1.45" fill="#fff" stroke="#91cc75" stroke-width="0.9"/>
<circle cx="548.7" cy="370.9" r="1.45" fill="#fff" stroke="#91cc75" stroke-width="0.9"/>
<circle cx="584.1" cy="373.8" r="1.45" fill="#fff" stroke="#91cc75" stroke-width="0.9"/>
<circle cx="619.4" cy="379.0" r="1.45" fill="#fff" stroke="#91cc75" stroke-width="0.9"/>
<circle cx="654.7" cy="384.1" r="1.45" fill="#fff" stroke="#91cc75" stroke-width="0.9"/>
<circle cx="690.0" cy="390.0" r="1.45" fill="#fff" stroke="#91cc75" stroke-width="0.9"/>
<circle cx="725.4" cy="398.9" r="1.45" fill="#fff" stroke="#91cc75" stroke-width="0.9"/>
<circle cx="760.7" cy="404.0" r="1.45" fill="#fff" stroke="#91cc75" stroke-width="0.9"/>
<polyline points="513.4,370.1 548.7,373.1 584.1,376.8 619.4,380.4 654.7,384.1 690.0,385.6 725.4,386.3 760.7,387.1" fill="none" stroke="#fac858" stroke-width="1.65" stroke-linejoin="round"/>
<circle cx="513.4" cy="370.1" r="1.45" fill="#fff" stroke="#fac858" stroke-width="0.9"/>
<circle cx="548.7" cy="373.1" r="1.45" fill="#fff" stroke="#fac858" stroke-width="0.9"/>
<circle cx="584.1" cy="376.8" r="1.45" fill="#fff" stroke="#fac858" stroke-width="0.9"/>
<circle cx="619.4" cy="380.4" r="1.45" fill="#fff" stroke="#fac858" stroke-width="0.9"/>
<circle cx="654.7" cy="384.1" r="1.45" fill="#fff" stroke="#fac858" stroke-width="0.9"/>
<circle cx="690.0" cy="385.6" r="1.45" fill="#fff" stroke="#fac858" stroke-width="0.9"/>
<circle cx="725.4" cy="386.3" r="1.45" fill="#fff" stroke="#fac858" stroke-width="0.9"/>
<circle cx="760.7" cy="387.1" r="1.45" fill="#fff" stroke="#fac858" stroke-width="0.9"/>
<polyline points="513.4,362.0 548.7,365.0 584.1,366.4 619.4,365.7 654.7,370.9 690.0,373.1 725.4,374.5 760.7,376.0" fill="none" stroke="#ee6666" stroke-width="1.65" stroke-linejoin="round"/>
<circle cx="513.4" cy="362.0" r="1.45" fill="#fff" stroke="#ee6666" stroke-width="0.9"/>
<circle cx="548.7" cy="365.0" r="1.45" fill="#fff" stroke="#ee6666" stroke-width="0.9"/>
<circle cx="584.1" cy="366.4" r="1.45" fill="#fff" stroke="#ee6666" stroke-width="0.9"/>
<circle cx="619.4" cy="365.7" r="1.45" fill="#fff" stroke="#ee6666" stroke-width="0.9"/>
<circle cx="654.7" cy="370.9" r="1.45" fill="#fff" stroke="#ee6666" stroke-width="0.9"/>
<circle cx="690.0" cy="373.1" r="1.45" fill="#fff" stroke="#ee6666" stroke-width="0.9"/>
<circle cx="725.4" cy="374.5" r="1.45" fill="#fff" stroke="#ee6666" stroke-width="0.9"/>
<circle cx="760.7" cy="376.0" r="1.45" fill="#fff" stroke="#ee6666" stroke-width="0.9"/>
<polyline points="513.4,367.9 548.7,371.6 584.1,376.0 619.4,379.0 654.7,381.2 690.0,381.9 725.4,379.0 760.7,381.2" fill="none" stroke="#73c0de" stroke-width="1.65" stroke-linejoin="round"/>
<circle cx="513.4" cy="367.9" r="1.45" fill="#fff" stroke="#73c0de" stroke-width="0.9"/>
<circle cx="548.7" cy="371.6" r="1.45" fill="#fff" stroke="#73c0de" stroke-width="0.9"/>
<circle cx="584.1" cy="376.0" r="1.45" fill="#fff" stroke="#73c0de" stroke-width="0.9"/>
<circle cx="619.4" cy="379.0" r="1.45" fill="#fff" stroke="#73c0de" stroke-width="0.9"/>
<circle cx="654.7" cy="381.2" r="1.45" fill="#fff" stroke="#73c0de" stroke-width="0.9"/>
<circle cx="690.0" cy="381.9" r="1.45" fill="#fff" stroke="#73c0de" stroke-width="0.9"/>
<circle cx="725.4" cy="379.0" r="1.45" fill="#fff" stroke="#73c0de" stroke-width="0.9"/>
<circle cx="760.7" cy="381.2" r="1.45" fill="#fff" stroke="#73c0de" stroke-width="0.9"/>
<polyline points="513.4,358.3 548.7,362.0 584.1,366.4 619.4,365.7 654.7,371.6 690.0,375.3 725.4,387.1 760.7,379.0" fill="none" stroke="#3ba272" stroke-width="1.65" stroke-linejoin="round"/>
<circle cx="513.4" cy="358.3" r="1.45" fill="#fff" stroke="#3ba272" stroke-width="0.9"/>
<circle cx="548.7" cy="362.0" r="1.45" fill="#fff" stroke="#3ba272" stroke-width="0.9"/>
<circle cx="584.1" cy="366.4" r="1.45" fill="#fff" stroke="#3ba272" stroke-width="0.9"/>
<circle cx="619.4" cy="365.7" r="1.45" fill="#fff" stroke="#3ba272" stroke-width="0.9"/>
<circle cx="654.7" cy="371.6" r="1.45" fill="#fff" stroke="#3ba272" stroke-width="0.9"/>
<circle cx="690.0" cy="375.3" r="1.45" fill="#fff" stroke="#3ba272" stroke-width="0.9"/>
<circle cx="725.4" cy="387.1" r="1.45" fill="#fff" stroke="#3ba272" stroke-width="0.9"/>
<circle cx="760.7" cy="379.0" r="1.45" fill="#fff" stroke="#3ba272" stroke-width="0.9"/>
<polyline points="513.4,377.5 548.7,375.3 584.1,376.8 619.4,379.7 654.7,385.6 690.0,387.8 725.4,388.5 760.7,390.0" fill="none" stroke="#fc8452" stroke-width="1.65" stroke-linejoin="round"/>
<circle cx="513.4" cy="377.5" r="1.45" fill="#fff" stroke="#fc8452" stroke-width="0.9"/>
<circle cx="548.7" cy="375.3" r="1.45" fill="#fff" stroke="#fc8452" stroke-width="0.9"/>
<circle cx="584.1" cy="376.8" r="1.45" fill="#fff" stroke="#fc8452" stroke-width="0.9"/>
<circle cx="619.4" cy="379.7" r="1.45" fill="#fff" stroke="#fc8452" stroke-width="0.9"/>
<circle cx="654.7" cy="385.6" r="1.45" fill="#fff" stroke="#fc8452" stroke-width="0.9"/>
<circle cx="690.0" cy="387.8" r="1.45" fill="#fff" stroke="#fc8452" stroke-width="0.9"/>
<circle cx="725.4" cy="388.5" r="1.45" fill="#fff" stroke="#fc8452" stroke-width="0.9"/>
<circle cx="760.7" cy="390.0" r="1.45" fill="#fff" stroke="#fc8452" stroke-width="0.9"/>
<rect x="509.8" y="354.2" width="9.7" height="26.3" fill="none" stroke="#000" stroke-width="1" stroke-dasharray="3.2,1.6"/>
<rect x="647.3000000000001" y="324.4" width="105.0" height="117.80000000000001" rx="3" fill="#000" fill-opacity="0.13" filter="url(#blur2)"/>
<rect x="646.7" y="323.2" width="105.0" height="117.80000000000001" rx="3" fill="#fff" fill-opacity="0.88"/>
<text x="653.3" y="340.1" font-size="8.8" text-anchor="start" fill="#555" >Cluster_2</text>
<circle cx="656.2" cy="350.0" r="2.7" fill="#3ba272"/>
<text x="661.8" y="353.0" font-size="8.4" text-anchor="start" fill="#4a4a4a" >SC : 0.75</text>
<circle cx="656.2" cy="363.0" r="2.7" fill="#ee6666"/>
<text x="661.8" y="366.0" font-size="8.4" text-anchor="start" fill="#4a4a4a" >AC : 0.7</text>
<circle cx="656.2" cy="376.0" r="2.7" fill="#91cc75"/>
<text x="661.8" y="379.0" font-size="8.4" text-anchor="start" fill="#4a4a4a" >KM_DTW : 0.65</text>
<circle cx="656.2" cy="388.9" r="2.7" fill="#73c0de"/>
<text x="661.8" y="392.0" font-size="8.4" text-anchor="start" fill="#4a4a4a" >AC_DTW : 0.62</text>
<circle cx="656.2" cy="401.9" r="2.7" fill="#fac858"/>
<text x="661.8" y="404.9" font-size="8.4" text-anchor="start" fill="#4a4a4a" >KMeans : 0.59</text>
<circle cx="656.2" cy="414.9" r="2.7" fill="#5470c6"/>
<text x="661.8" y="417.9" font-size="8.4" text-anchor="start" fill="#4a4a4a" >KM : 0.58</text>
<circle cx="656.2" cy="427.9" r="2.7" fill="#fc8452"/>
<text x="661.8" y="430.9" font-size="8.4" text-anchor="start" fill="#4a4a4a" >Birch : 0.49</text>
<path d="M523.8 539.6L765.1 539.6" stroke="#e2e7f1" stroke-width="1" />
<path d="M523.8 523.5L765.1 523.5" stroke="#e2e7f1" stroke-width="1" />
<path d="M523.8 507.5L765.1 507.5" stroke="#e2e7f1" stroke-width="1" />
<path d="M523.8 491.5L765.1 491.5" stroke="#e2e7f1" stroke-width="1" />
<path d="M523.8 475.4L765.1 475.4" stroke="#e2e7f1" stroke-width="1" />
<path d="M523.8 459.4L765.1 459.4" stroke="#e2e7f1" stroke-width="1" />
<path d="M523.8 451.4L765.1 451.4" stroke="#e2e7f1" stroke-width="1" />
<path d="M547.9 451.4L547.9 555.6" stroke="#e2e7f1" stroke-width="1" />
<path d="M572.1 451.4L572.1 555.6" stroke="#e2e7f1" stroke-width="1" />
<path d="M596.2 451.4L596.2 555.6" stroke="#e2e7f1" stroke-width="1" />
<path d="M620.3 451.4L620.3 555.6" stroke="#e2e7f1" stroke-width="1" />
<path d="M644.5 451.4L644.5 555.6" stroke="#e2e7f1" stroke-width="1" />
<path d="M668.6 451.4L668.6 555.6" stroke="#e2e7f1" stroke-width="1" />
<path d="M692.7 451.4L692.7 555.6" stroke="#e2e7f1" stroke-width="1" />
<path d="M716.8 451.4L716.8 555.6" stroke="#e2e7f1" stroke-width="1" />
<path d="M741.0 451.4L741.0 555.6" stroke="#e2e7f1" stroke-width="1" />
<path d="M765.1 451.4L765.1 555.6" stroke="#e2e7f1" stroke-width="1" />
<rect x="526.9" y="548.7" width="5.8" height="5.7" fill="#66a1cd" />
<rect x="539.0" y="548.7" width="5.8" height="5.7" fill="#66a1cd" />
<rect x="551.1" y="548.7" width="5.8" height="5.7" fill="#66a1cd" />
<rect x="563.1" y="548.7" width="5.8" height="5.7" fill="#66a1cd" />
<rect x="575.2" y="548.7" width="5.8" height="5.7" fill="#66a1cd" />
<rect x="587.3" y="548.7" width="5.8" height="5.7" fill="#6b8e65" />
<rect x="599.3" y="548.7" width="5.8" height="5.7" fill="#6b8e65" />
<rect x="611.4" y="548.7" width="5.8" height="5.7" fill="#6b8e65" />
<rect x="623.5" y="548.7" width="5.8" height="5.7" fill="#6b8e65" />
<rect x="635.5" y="548.7" width="5.8" height="5.7" fill="#6b8e65" />
<rect x="647.6" y="548.7" width="5.8" height="5.7" fill="#6b8e65" />
<rect x="659.6" y="548.7" width="5.8" height="5.7" fill="#6b8e65" />
<rect x="671.7" y="548.7" width="5.8" height="5.7" fill="#6b8e65" />
<rect x="683.8" y="548.7" width="5.8" height="5.7" fill="#6b8e65" />
<rect x="695.8" y="548.7" width="5.8" height="5.7" fill="#6b8e65" />
<rect x="707.9" y="548.7" width="5.8" height="5.7" fill="#6b8e65" />
<rect x="720.0" y="548.7" width="5.8" height="5.7" fill="#6b8e65" />
<rect x="732.0" y="548.7" width="5.8" height="5.7" fill="#6b8e65" />
<rect x="744.1" y="548.7" width="5.8" height="5.7" fill="#6b8e65" />
<rect x="756.2" y="548.7" width="5.8" height="5.7" fill="#6b8e65" />
<rect x="587.3" y="540.7" width="5.8" height="5.7" fill="#66a1cd" />
<rect x="695.8" y="540.7" width="5.8" height="5.7" fill="#66a1cd" />
<rect x="587.3" y="532.7" width="5.8" height="5.7" fill="#66a1cd" />
<rect x="695.8" y="532.7" width="5.8" height="5.7" fill="#66a1cd" />
<rect x="587.3" y="524.7" width="5.8" height="5.7" fill="#66a1cd" />
<rect x="695.8" y="524.7" width="5.8" height="5.7" fill="#66a1cd" />
<rect x="587.3" y="516.7" width="5.8" height="5.7" fill="#66a1cd" />
<rect x="695.8" y="516.7" width="5.8" height="5.7" fill="#66a1cd" />
<rect x="587.3" y="508.7" width="5.8" height="5.7" fill="#66a1cd" />
<rect x="695.8" y="508.7" width="5.8" height="5.7" fill="#66a1cd" />
<rect x="587.3" y="500.6" width="5.8" height="5.7" fill="#66a1cd" />
<rect x="695.8" y="500.6" width="5.8" height="5.7" fill="#66a1cd" />
<rect x="587.3" y="492.6" width="5.8" height="5.7" fill="#66a1cd" />
<rect x="695.8" y="492.6" width="5.8" height="5.7" fill="#66a1cd" />
<rect x="587.3" y="484.6" width="5.8" height="5.7" fill="#66a1cd" />
<rect x="695.8" y="484.6" width="5.8" height="5.7" fill="#66a1cd" />
<rect x="587.3" y="476.6" width="5.8" height="5.7" fill="#6b8e65" />
<rect x="695.8" y="476.6" width="5.8" height="5.7" fill="#66a1cd" />
<rect x="587.3" y="468.6" width="5.8" height="5.7" fill="#6b8e65" />
<rect x="695.8" y="468.6" width="5.8" height="5.7" fill="#6b8e65" />
<rect x="587.3" y="460.6" width="5.8" height="5.7" fill="#6b8e65" />
<rect x="695.8" y="460.6" width="5.8" height="5.7" fill="#6b8e65" />
<rect x="587.3" y="452.6" width="5.8" height="5.7" fill="#6b8e65" />
<rect x="695.8" y="452.6" width="5.8" height="5.7" fill="#6b8e65" />
<path d="M523.8 450.9L523.8 556.1" stroke="#6e7280" stroke-width="1.1" />
<path d="M523.8 555.6L765.1 555.6" stroke="#6e7280" stroke-width="1.1" />
<path d="M519.5 555.6L523.8 555.6" stroke="#6e7280" stroke-width="1.1" />
<path d="M519.5 539.6L523.8 539.6" stroke="#6e7280" stroke-width="1.1" />
<path d="M519.5 523.5L523.8 523.5" stroke="#6e7280" stroke-width="1.1" />
<path d="M519.5 507.5L523.8 507.5" stroke="#6e7280" stroke-width="1.1" />
<path d="M519.5 491.5L523.8 491.5" stroke="#6e7280" stroke-width="1.1" />
<path d="M519.5 475.4L523.8 475.4" stroke="#6e7280" stroke-width="1.1" />
<path d="M519.5 459.4L523.8 459.4" stroke="#6e7280" stroke-width="1.1" />
<path d="M519.5 451.4L523.8 451.4" stroke="#6e7280" stroke-width="1.1" />
<path d="M523.8 555.6L523.8 559.9" stroke="#6e7280" stroke-width="1.1" />
<path d="M547.9 555.6L547.9 559.9" stroke="#6e7280" stroke-width="1.1" />
<path d="M572.1 555.6L572.1 559.9" stroke="#6e7280" stroke-width="1.1" />
<path d="M596.2 555.6L596.2 559.9" stroke="#6e7280" stroke-width="1.1" />
<path d="M620.3 555.6L620.3 559.9" stroke="#6e7280" stroke-width="1.1" />
<path d="M644.5 555.6L644.5 559.9" stroke="#6e7280" stroke-width="1.1" />
<path d="M668.6 555.6L668.6 559.9" stroke="#6e7280" stroke-width="1.1" />
<path d="M692.7 555.6L692.7 559.9" stroke="#6e7280" stroke-width="1.1" />
<path d="M716.8 555.6L716.8 559.9" stroke="#6e7280" stroke-width="1.1" />
<path d="M741.0 555.6L741.0 559.9" stroke="#6e7280" stroke-width="1.1" />
<path d="M765.1 555.6L765.1 559.9" stroke="#6e7280" stroke-width="1.1" />
<text x="518.6" y="555.0" font-size="9.6" text-anchor="end" >13</text>
<text x="518.6" y="539.0" font-size="9.6" text-anchor="end" >2</text>
<text x="518.6" y="523.0" font-size="9.6" text-anchor="end" >4</text>
<text x="518.6" y="507.0" font-size="9.6" text-anchor="end" >6</text>
<text x="518.6" y="490.9" font-size="9.6" text-anchor="end" >8</text>
<text x="518.6" y="474.9" font-size="9.6" text-anchor="end" >10</text>
<text x="518.6" y="458.9" font-size="9.6" text-anchor="end" >12</text>
<text x="529.8" y="569.2" font-size="9.6" >1</text>
<text x="554.0" y="569.2" font-size="9.6" >3</text>
<text x="578.1" y="569.2" font-size="9.6" >5</text>
<text x="602.2" y="569.2" font-size="9.6" >7</text>
<text x="626.4" y="569.2" font-size="9.6" >9</text>
<text x="650.5" y="569.2" font-size="9.6" >11</text>
<text x="674.6" y="569.2" font-size="9.6" >13</text>
<text x="698.7" y="569.2" font-size="9.6" >15</text>
<text x="722.9" y="569.2" font-size="9.6" >17</text>
<text x="747.0" y="569.2" font-size="9.6" >19</text>
<path d="M1043.8 19.0L1047.2 19.0" stroke="#1aa8e0" stroke-width="1.0" />
<path d="M1052.7 19.0L1056.1 19.0" stroke="#1aa8e0" stroke-width="1.0" />
<circle cx="1049.95" cy="19.00" r="2.7" fill="#fff" stroke="#1aa8e0" stroke-width="1.0"/>
<text transform="translate(1058.9,21.5) scale(0.84,1)" font-size="7.300000000000001" text-anchor="start" fill="#333" >HTSFT1</text>
<path d="M1087.3 19.0L1090.7 19.0" stroke="#9bd300" stroke-width="1.0" />
<path d="M1096.1 19.0L1099.5 19.0" stroke="#9bd300" stroke-width="1.0" />
<circle cx="1093.40" cy="19.00" r="2.7" fill="#fff" stroke="#9bd300" stroke-width="1.0"/>
<text transform="translate(1102.3,21.5) scale(0.84,1)" font-size="7.300000000000001" text-anchor="start" fill="#333" >HTSFT2</text>
<path d="M1130.5 19.0L1134.0 19.0" stroke="#11a25c" stroke-width="1.0" />
<path d="M1139.5 19.0L1143.0 19.0" stroke="#11a25c" stroke-width="1.0" />
<circle cx="1136.75" cy="19.00" r="2.7" fill="#fff" stroke="#11a25c" stroke-width="1.0"/>
<text transform="translate(1146.0,21.5) scale(0.84,1)" font-size="7.300000000000001" text-anchor="start" fill="#333" >Average</text>
<path d="M1175.6 19.0L1179.4 19.0" stroke="#666666" stroke-width="1.0" />
<path d="M1184.8 19.0L1188.6 19.0" stroke="#666666" stroke-width="1.0" />
<circle cx="1182.10" cy="19.00" r="2.7" fill="#fff" stroke="#666666" stroke-width="1.0"/>
<text transform="translate(1191.4,21.5) scale(0.84,1)" font-size="7.300000000000001" text-anchor="start" fill="#333" >MW</text>
<path d="M1024.7 42.7L1228.0 42.7" stroke="#e2e7f1" stroke-width="0.8" />
<path d="M1024.7 57.8L1228.0 57.8" stroke="#e2e7f1" stroke-width="0.8" />
<path d="M1024.7 71.5L1228.0 71.5" stroke="#e2e7f1" stroke-width="0.8" />
<path d="M1024.7 86.6L1228.0 86.6" stroke="#e2e7f1" stroke-width="0.8" />
<path d="M1024.7 100.6L1228.0 100.6" stroke="#e2e7f1" stroke-width="0.8" />
<path d="M1024.7 110.3L1228.0 110.3" stroke="#e2e7f1" stroke-width="0.8" />
<path d="M1024.7 37.8L1228.0 37.8" stroke="#eef1f6" stroke-width="0.8" />
<path d="M1024.7 50.8L1228.0 50.8" stroke="#eef1f6" stroke-width="0.8" />
<path d="M1024.7 63.5L1228.0 63.5" stroke="#eef1f6" stroke-width="0.8" />
<path d="M1024.7 76.4L1228.0 76.4" stroke="#eef1f6" stroke-width="0.8" />
<path d="M1024.7 89.1L1228.0 89.1" stroke="#eef1f6" stroke-width="0.8" />
<path d="M1024.7 101.8L1228.0 101.8" stroke="#eef1f6" stroke-width="0.8" />
<path d="M1024.7 110.3L1228.0 110.3" stroke="#eef1f6" stroke-width="0.8" />
<path d="M1024.7 110.3L1228.0 110.3" stroke="#6e7079" stroke-width="0.9" />
<path d="M1024.7 110.3L1024.7 113.3" stroke="#6e7079" stroke-width="0.9" />
<text transform="translate(1024.7,120.5) scale(0.96,1)" font-size="6.6" fill="#586380" >03:06:40</text>
<path d="M1057.1 110.3L1057.1 113.3" stroke="#6e7079" stroke-width="0.9" />
<text transform="translate(1057.1,120.5) scale(0.96,1)" font-size="6.6" fill="#586380" >03:26:45</text>
<path d="M1089.9 110.3L1089.9 113.3" stroke="#6e7079" stroke-width="0.9" />
<text transform="translate(1089.9,120.5) scale(0.96,1)" font-size="6.6" fill="#586380" >03:46:50</text>
<path d="M1122.3 110.3L1122.3 113.3" stroke="#6e7079" stroke-width="0.9" />
<text transform="translate(1122.3,120.5) scale(0.96,1)" font-size="6.6" fill="#586380" >04:06:55</text>
<path d="M1155.0 110.3L1155.0 113.3" stroke="#6e7079" stroke-width="0.9" />
<text transform="translate(1155.0,120.5) scale(0.96,1)" font-size="6.6" fill="#586380" >04:27:00</text>
<path d="M1187.5 110.3L1187.5 113.3" stroke="#6e7079" stroke-width="0.9" />
<text transform="translate(1187.5,120.5) scale(0.96,1)" font-size="6.6" fill="#586380" >04:47:05</text>
<path d="M1220.0 110.3L1220.0 113.3" stroke="#6e7079" stroke-width="0.9" />
<text transform="translate(1220.0,120.5) scale(0.96,1)" font-size="6.6" fill="#586380" >05:07:10</text>
<path d="M1228.0 110.3L1228.0 113.3" stroke="#6e7079" stroke-width="0.9" />
<text transform="translate(1020.5,45.1) scale(0.9,1)" font-size="6.6" text-anchor="end" fill="#586380" >609</text>
<text transform="translate(1020.5,60.2) scale(0.9,1)" font-size="6.6" text-anchor="end" fill="#586380" >606</text>
<text transform="translate(1020.5,73.9) scale(0.9,1)" font-size="6.6" text-anchor="end" fill="#586380" >603</text>
<text transform="translate(1020.5,89.0) scale(0.9,1)" font-size="6.6" text-anchor="end" fill="#586380" >600</text>
<text transform="translate(1020.5,103.0) scale(0.9,1)" font-size="6.6" text-anchor="end" fill="#586380" >597</text>
<text transform="translate(1020.5,112.7) scale(0.9,1)" font-size="6.6" text-anchor="end" fill="#586380" >595</text>
<text transform="translate(1232.2,40.2) scale(0.9,1)" font-size="6.6" text-anchor="start" fill="#586380" >342</text>
<text transform="translate(1232.2,53.2) scale(0.9,1)" font-size="6.6" text-anchor="start" fill="#586380" >339</text>
<text transform="translate(1232.2,65.9) scale(0.9,1)" font-size="6.6" text-anchor="start" fill="#586380" >336</text>
<text transform="translate(1232.2,78.8) scale(0.9,1)" font-size="6.6" text-anchor="start" fill="#586380" >333</text>
<text transform="translate(1232.2,91.5) scale(0.9,1)" font-size="6.6" text-anchor="start" fill="#586380" >330</text>
<text transform="translate(1232.2,104.2) scale(0.9,1)" font-size="6.6" text-anchor="start" fill="#586380" >327</text>
<text transform="translate(1232.2,112.7) scale(0.9,1)" font-size="6.6" text-anchor="start" fill="#586380" >325</text>
<path d="M1023.9,47.6 L1025.4,45.2 L1027.1,41.5 L1028.6,39.1 L1029.6,48.8 L1030.3,73.2 L1031.0,85.4 L1031.6,87.1 L1032.3,89.1 L1032.9,87.3 L1033.5,86.9 L1034.1,89.1 L1034.7,89.1 L1035.4,88.5 L1036.0,88.3 L1036.6,92.4 L1037.2,90.6 L1037.8,91.8 L1038.5,87.3 L1039.1,88.9 L1039.7,87.7 L1040.3,87.5 L1040.9,87.9 L1041.6,92.7 L1042.2,91.8 L1042.8,88.5 L1043.4,89.0 L1044.0,89.3 L1044.7,87.6 L1045.3,89.4 L1045.9,88.6 L1046.5,103.0 L1047.1,92.4 L1047.8,89.5 L1048.4,89.2 L1049.0,91.4 L1049.6,93.4 L1050.2,89.0 L1050.9,88.5 L1051.5,90.5 L1052.1,96.4 L1052.7,98.5 L1053.3,98.5 L1054.0,94.4 L1054.6,89.6 L1055.2,92.4 L1055.8,89.1 L1056.4,92.1 L1057.1,87.9 L1057.7,89.9 L1058.3,88.2 L1058.9,88.9 L1059.5,89.2 L1060.2,88.6 L1060.8,89.4 L1061.4,89.6 L1062.0,91.4 L1062.6,89.0 L1063.3,89.5 L1063.9,90.9 L1064.5,98.0 L1065.1,91.0 L1065.7,90.1 L1066.4,87.9 L1067.0,91.2 L1067.6,88.7 L1068.2,90.3 L1068.8,89.0 L1069.5,91.2 L1070.1,86.5 L1070.7,89.2 L1071.3,91.2 L1071.9,88.9 L1072.6,90.3 L1073.2,88.8 L1073.8,101.2 L1074.4,86.7 L1075.0,88.0 L1075.7,88.0 L1076.3,90.1 L1076.9,86.2 L1077.5,86.7 L1078.1,89.7 L1078.8,87.8 L1079.4,87.8 L1080.0,90.1 L1080.6,89.4 L1081.2,88.4 L1081.9,87.4 L1082.5,89.4 L1083.1,88.6 L1083.7,88.3 L1084.3,88.8 L1085.0,90.5 L1085.6,91.0 L1086.2,94.0 L1086.8,89.9 L1087.4,90.9 L1088.1,89.4 L1088.7,94.8 L1089.3,89.5 L1089.9,89.5 L1090.5,91.0 L1091.2,89.7 L1091.8,89.7 L1092.4,89.3 L1093.0,90.7 L1093.6,89.8 L1094.3,87.5 L1094.9,88.6 L1095.5,88.6 L1096.1,88.8 L1096.7,88.3 L1097.4,94.7 L1098.0,92.9 L1098.6,91.7 L1099.2,90.2 L1099.8,89.1 L1100.5,87.4 L1101.1,86.8 L1101.7,93.5 L1102.3,90.0 L1102.9,89.2 L1103.6,89.7 L1104.2,86.9 L1104.8,88.4 L1105.4,98.1 L1106.0,93.1 L1106.7,87.0 L1107.3,96.9 L1107.9,97.0 L1108.5,89.9 L1109.1,89.5 L1109.8,86.4 L1110.4,88.4 L1111.0,87.8 L1111.6,90.1 L1112.2,95.3 L1112.9,91.2 L1113.5,89.2 L1114.1,93.6 L1114.7,88.8 L1115.3,91.9 L1116.0,93.4 L1116.6,89.8 L1117.2,89.6 L1117.8,87.0 L1118.4,89.6 L1119.1,87.6 L1119.7,88.4 L1120.3,86.3 L1120.9,94.2 L1121.5,90.2 L1122.2,89.2 L1122.8,90.9 L1123.4,87.9 L1124.0,88.2 L1124.6,88.4 L1125.3,101.0 L1125.9,86.8 L1126.5,89.9 L1127.1,88.4 L1127.7,88.2 L1128.4,93.8 L1129.0,88.0 L1129.6,88.7 L1130.2,92.5 L1130.8,89.2 L1131.5,90.3 L1132.1,89.3 L1132.7,94.0 L1133.3,90.2 L1133.9,88.0 L1134.6,88.6 L1135.2,89.4 L1135.8,87.7 L1136.4,91.2 L1137.0,90.2 L1137.7,86.3 L1138.3,88.2 L1138.9,88.8 L1139.5,90.6 L1140.1,88.2 L1140.8,98.3 L1141.4,89.0 L1142.0,97.0 L1142.6,89.9 L1143.2,88.8 L1143.9,88.0 L1144.5,89.4 L1145.1,88.7 L1145.7,89.2 L1146.3,88.5 L1147.0,86.9 L1147.6,90.0 L1148.2,87.2 L1148.8,89.3 L1149.4,89.3 L1150.1,91.9 L1150.7,91.4 L1151.3,89.7 L1151.9,88.0 L1152.5,89.8 L1153.2,88.4 L1153.8,88.5 L1154.4,89.2 L1155.0,89.8 L1155.6,88.8 L1156.3,95.2 L1156.9,87.2 L1157.5,89.7 L1158.1,87.3 L1158.7,100.5 L1159.4,94.4 L1160.0,87.5 L1160.6,89.1 L1161.2,87.5 L1161.8,87.9 L1162.5,86.7 L1163.1,90.1 L1163.7,88.5 L1164.3,92.0 L1164.9,92.4 L1165.6,87.8 L1166.2,87.3 L1166.8,90.3 L1167.4,88.6 L1168.0,88.9 L1168.7,88.6 L1169.3,92.8 L1169.9,92.8 L1170.5,88.6 L1171.1,91.2 L1171.8,90.1 L1172.4,88.3 L1173.0,88.8 L1173.6,88.2 L1174.2,94.0 L1174.9,87.9 L1175.5,88.7 L1176.1,91.3 L1176.7,89.6 L1177.3,90.0 L1178.0,92.2 L1178.6,91.8 L1179.2,89.8 L1179.8,88.6 L1180.4,87.4 L1181.1,92.0 L1181.7,93.4 L1182.3,87.9 L1182.9,89.5 L1183.5,88.4 L1184.2,88.4 L1184.8,87.3 L1185.4,88.1 L1186.0,88.2 L1186.6,88.7 L1187.3,94.8 L1187.9,89.2 L1188.5,88.5 L1189.1,90.2 L1189.7,84.5 L1190.4,87.8 L1191.0,88.6 L1191.6,89.2 L1192.2,90.6 L1192.8,88.0 L1193.5,87.2 L1194.1,91.3 L1194.7,91.3 L1195.3,91.3 L1195.9,89.0 L1196.6,88.2 L1197.2,93.6 L1197.8,89.5 L1198.4,87.8 L1199.0,91.6 L1199.7,90.3 L1200.3,89.1 L1200.9,88.9 L1201.5,88.7 L1202.1,89.2 L1202.8,98.5 L1203.4,89.7 L1204.0,88.5 L1204.6,91.8 L1205.2,95.5 L1205.9,90.0 L1206.5,89.4 L1207.1,94.9 L1207.7,95.0 L1208.3,88.0 L1209.0,92.9 L1209.6,89.5 L1210.2,88.2 L1210.8,89.1 L1211.4,91.1 L1212.1,87.2 L1212.7,92.3 L1213.3,86.3 L1213.9,92.8 L1214.5,92.8 L1215.2,96.2 L1215.8,87.8 L1216.4,94.0 L1217.0,97.3 L1217.6,90.0 L1218.3,88.8 L1218.9,90.3 L1219.5,98.3 L1220.1,93.5 L1220.7,88.9 L1221.4,92.2 L1222.0,93.4 L1222.6,87.6 L1223.2,89.0 L1223.8,85.8 L1224.5,87.2 L1225.1,84.7 L1225.7,86.1 L1226.3,86.8 L1226.9,84.9 L1227.6,86.6" fill="none" stroke="#666666" stroke-width="1.3" stroke-linejoin="round"/>
<path d="M1023.9,74.4C1024.5,73.4 1026.0,70.0 1027.1,68.3C1028.3,66.7 1029.4,65.5 1030.8,64.7C1032.2,63.9 1034.0,64.7 1035.7,63.5C1037.3,62.2 1039.1,60.2 1040.5,57.4C1042.0,54.5 1043.2,48.7 1044.2,46.4C1045.2,44.1 1045.7,43.0 1046.6,43.4C1047.6,43.9 1048.8,46.3 1049.8,48.8C1050.8,51.3 1051.5,56.1 1052.8,58.6C1054.0,61.0 1055.5,62.4 1057.1,63.5C1058.8,64.5 1060.8,63.9 1062.5,64.7C1064.2,65.4 1065.8,66.9 1067.4,67.9C1069.0,68.8 1070.7,70.1 1072.3,70.3C1073.9,70.5 1075.5,69.9 1077.2,68.8C1078.8,67.8 1080.4,65.5 1082.0,63.9C1083.7,62.4 1085.3,60.8 1086.9,59.8C1088.5,58.8 1090.2,58.6 1091.8,58.1C1093.4,57.6 1095.1,56.9 1096.7,56.6C1098.3,56.4 1099.9,56.5 1101.6,56.6C1103.2,56.8 1104.8,57.3 1106.4,57.6C1108.1,57.9 1109.7,58.2 1111.3,58.6C1113.0,58.9 1114.8,59.2 1116.2,59.8C1117.6,60.4 1118.8,61.5 1119.9,62.2C1121.0,62.9 1121.8,64.2 1122.8,63.9C1123.8,63.7 1124.6,62.9 1126.0,61.0C1127.3,59.1 1129.4,54.7 1130.9,52.5C1132.3,50.2 1133.4,48.5 1134.5,47.6C1135.6,46.7 1136.4,46.0 1137.4,46.9C1138.5,47.7 1139.5,49.5 1140.6,52.5C1141.8,55.4 1143.1,61.2 1144.3,64.7C1145.5,68.1 1146.7,71.2 1147.9,73.2C1149.2,75.3 1150.4,76.2 1151.6,76.9C1152.8,77.6 1154.0,78.0 1155.3,77.6C1156.5,77.2 1157.7,76.0 1158.9,74.4C1160.1,72.9 1161.4,70.3 1162.6,68.3C1163.8,66.4 1165.0,64.1 1166.2,63.0C1167.5,61.8 1168.7,61.8 1169.9,61.5C1171.1,61.2 1172.4,61.7 1173.6,61.0C1174.8,60.3 1176.0,58.5 1177.2,57.4C1178.5,56.2 1179.8,54.7 1180.9,54.2C1182.0,53.7 1183.0,53.5 1184.1,54.2C1185.2,54.9 1186.4,57.0 1187.5,58.6C1188.6,60.2 1189.5,62.5 1190.7,63.9C1191.8,65.4 1193.1,66.2 1194.3,67.1C1195.5,68.1 1196.8,68.7 1198.0,69.6C1199.2,70.5 1200.4,71.7 1201.6,72.5C1202.9,73.3 1204.1,74.5 1205.3,74.4C1206.5,74.4 1207.7,73.4 1209.0,72.0C1210.2,70.6 1211.4,68.3 1212.6,65.9C1213.8,63.5 1215.1,60.0 1216.3,57.4C1217.5,54.7 1218.7,51.9 1219.9,50.0C1221.2,48.1 1222.4,46.8 1223.6,45.9C1224.8,45.0 1226.7,44.7 1227.3,44.4" fill="none" stroke="#1aa8e0" stroke-width="1.15" stroke-linejoin="round" stroke-linecap="round"/>
<circle cx="1023.9" cy="74.4" r="1.2" fill="#fff" stroke="#1aa8e0" stroke-width="0.8"/>
<circle cx="1057.1" cy="63.5" r="1.2" fill="#fff" stroke="#1aa8e0" stroke-width="0.8"/>
<circle cx="1091.8" cy="58.1" r="1.2" fill="#fff" stroke="#1aa8e0" stroke-width="0.8"/>
<circle cx="1122.8" cy="63.9" r="1.2" fill="#fff" stroke="#1aa8e0" stroke-width="0.8"/>
<circle cx="1155.3" cy="77.6" r="1.2" fill="#fff" stroke="#1aa8e0" stroke-width="0.8"/>
<circle cx="1187.5" cy="58.6" r="1.2" fill="#fff" stroke="#1aa8e0" stroke-width="0.8"/>
<circle cx="1219.9" cy="50.0" r="1.2" fill="#fff" stroke="#1aa8e0" stroke-width="0.8"/>
<path d="M1023.9,76.2C1024.5,75.1 1026.0,71.4 1027.1,69.6C1028.3,67.8 1029.4,66.8 1030.8,65.4C1032.2,64.0 1034.0,63.2 1035.7,61.0C1037.3,58.9 1039.1,55.0 1040.5,52.5C1042.0,50.0 1043.2,45.9 1044.2,45.9C1045.2,45.9 1045.7,48.7 1046.6,52.5C1047.6,56.2 1048.6,64.0 1049.8,68.3C1051.0,72.7 1052.8,76.6 1054.0,78.6C1055.2,80.6 1055.9,80.8 1057.1,80.5C1058.4,80.3 1059.8,77.9 1061.3,76.9C1062.8,75.9 1064.5,75.1 1066.2,74.4C1067.8,73.8 1069.6,74.6 1071.1,73.2C1072.5,71.8 1073.5,69.0 1074.7,65.9C1075.9,62.9 1077.2,58.2 1078.4,54.9C1079.6,51.7 1080.8,48.4 1082.0,46.4C1083.3,44.3 1084.3,43.2 1085.7,42.7C1087.1,42.2 1089.4,42.4 1090.6,43.4C1091.8,44.5 1092.0,46.3 1093.0,48.8C1094.0,51.3 1095.3,56.5 1096.7,58.6C1098.1,60.7 1099.9,60.8 1101.6,61.5C1103.2,62.2 1104.8,62.6 1106.4,63.0C1108.1,63.4 1109.7,63.8 1111.3,63.9C1113.0,64.1 1114.8,64.2 1116.2,63.9C1117.6,63.7 1118.8,62.9 1119.9,62.2C1121.0,61.5 1121.8,61.4 1122.8,59.8C1123.8,58.2 1124.8,55.1 1126.0,52.5C1127.1,49.8 1128.4,45.9 1129.6,43.9C1130.9,41.9 1132.2,40.9 1133.3,40.5C1134.4,40.1 1135.2,40.1 1136.2,41.5C1137.2,42.9 1138.3,45.2 1139.4,48.8C1140.5,52.5 1141.6,59.0 1143.1,63.5C1144.5,67.9 1146.3,72.6 1147.9,75.7C1149.6,78.7 1151.4,80.6 1152.8,81.8C1154.2,82.9 1155.3,82.5 1156.5,82.5C1157.7,82.5 1158.7,82.9 1160.1,81.8C1161.6,80.6 1163.4,78.7 1165.0,75.7C1166.7,72.6 1168.3,67.1 1169.9,63.5C1171.5,59.8 1173.4,56.1 1174.8,53.7C1176.2,51.3 1177.2,49.6 1178.5,48.8C1179.7,48.0 1180.9,48.0 1182.1,48.8C1183.3,49.6 1184.6,51.1 1185.8,53.7C1187.0,56.3 1188.2,60.8 1189.4,64.7C1190.7,68.5 1191.9,73.0 1193.1,76.9C1194.3,80.8 1195.5,84.6 1196.8,87.9C1198.0,91.1 1199.2,94.2 1200.4,96.4C1201.6,98.6 1203.0,100.5 1204.1,101.3C1205.2,102.1 1206.0,102.3 1207.0,101.3C1208.0,100.3 1209.0,98.6 1210.2,95.2C1211.3,91.7 1212.6,85.6 1213.8,80.5C1215.1,75.5 1216.4,69.4 1217.5,64.7C1218.6,60.0 1219.7,55.5 1220.7,52.5C1221.7,49.4 1222.5,47.7 1223.6,46.4C1224.7,45.0 1226.7,44.7 1227.3,44.4" fill="none" stroke="#9bd300" stroke-width="1.15" stroke-linejoin="round" stroke-linecap="round"/>
<circle cx="1023.9" cy="76.2" r="1.2" fill="#fff" stroke="#9bd300" stroke-width="0.8"/>
<circle cx="1057.1" cy="80.5" r="1.2" fill="#fff" stroke="#9bd300" stroke-width="0.8"/>
<circle cx="1090.6" cy="43.4" r="1.2" fill="#fff" stroke="#9bd300" stroke-width="0.8"/>
<circle cx="1122.8" cy="59.8" r="1.2" fill="#fff" stroke="#9bd300" stroke-width="0.8"/>
<circle cx="1156.5" cy="82.5" r="1.2" fill="#fff" stroke="#9bd300" stroke-width="0.8"/>
<circle cx="1185.8" cy="53.7" r="1.2" fill="#fff" stroke="#9bd300" stroke-width="0.8"/>
<circle cx="1220.7" cy="52.5" r="1.2" fill="#fff" stroke="#9bd300" stroke-width="0.8"/>
<path d="M1023.9,75.7C1024.5,74.5 1026.0,70.6 1027.1,68.8C1028.3,67.0 1029.4,66.0 1030.8,64.9C1032.2,63.8 1034.0,63.9 1035.7,62.2C1037.3,60.6 1039.1,57.6 1040.5,54.9C1042.0,52.2 1043.2,46.9 1044.2,45.9C1045.2,44.9 1045.7,46.3 1046.6,48.8C1047.6,51.3 1048.6,57.2 1049.8,61.0C1051.0,64.9 1052.8,69.6 1054.0,72.0C1055.2,74.4 1055.9,75.1 1057.1,75.2C1058.4,75.3 1059.8,73.1 1061.3,72.7C1062.8,72.3 1064.5,72.8 1066.2,72.7C1067.8,72.7 1069.6,73.4 1071.1,72.5C1072.5,71.6 1073.5,69.4 1074.7,67.1C1075.9,64.8 1077.2,61.0 1078.4,58.6C1079.6,56.1 1080.8,54.0 1082.0,52.5C1083.3,51.0 1084.3,50.2 1085.7,49.5C1087.1,48.9 1089.4,48.2 1090.6,48.8C1091.8,49.4 1092.0,51.5 1093.0,53.2C1094.0,54.9 1095.3,57.8 1096.7,59.1C1098.1,60.3 1099.9,60.0 1101.6,60.5C1103.2,61.1 1104.8,61.8 1106.4,62.2C1108.1,62.6 1109.7,62.9 1111.3,63.0C1113.0,63.1 1114.8,63.1 1116.2,63.0C1117.6,62.9 1118.8,62.7 1119.9,62.5C1121.0,62.3 1121.8,62.8 1122.8,61.8C1123.8,60.7 1124.8,58.4 1126.0,56.1C1127.1,53.9 1128.4,50.4 1129.6,48.3C1130.9,46.3 1132.2,44.6 1133.3,43.9C1134.4,43.3 1135.2,43.4 1136.2,44.4C1137.2,45.4 1138.3,46.8 1139.4,50.0C1140.5,53.3 1141.6,59.8 1143.1,63.9C1144.5,68.1 1146.3,72.6 1147.9,75.2C1149.6,77.7 1151.4,78.4 1152.8,79.3C1154.2,80.2 1155.3,80.7 1156.5,80.5C1157.7,80.4 1158.7,80.0 1160.1,78.6C1161.6,77.2 1163.4,74.6 1165.0,72.0C1166.7,69.4 1168.3,65.8 1169.9,63.0C1171.5,60.1 1173.4,56.9 1174.8,54.9C1176.2,53.0 1177.2,51.9 1178.5,51.3C1179.7,50.6 1180.9,50.5 1182.1,51.3C1183.3,52.0 1184.6,53.5 1185.8,55.7C1187.0,57.8 1188.2,61.0 1189.4,63.9C1190.7,66.9 1191.9,70.3 1193.1,73.2C1194.3,76.2 1195.5,79.1 1196.8,81.8C1198.0,84.4 1199.2,87.1 1200.4,89.1C1201.6,91.1 1203.0,93.2 1204.1,94.0C1205.2,94.8 1206.0,95.0 1207.0,94.0C1208.0,93.0 1209.0,90.9 1210.2,87.9C1211.3,84.8 1212.6,80.1 1213.8,75.7C1215.1,71.2 1216.4,65.1 1217.5,61.0C1218.6,57.0 1219.7,53.7 1220.7,51.3C1221.7,48.8 1222.5,47.5 1223.6,46.4C1224.7,45.2 1226.7,44.7 1227.3,44.4" fill="none" stroke="#11a25c" stroke-width="1.15" stroke-linejoin="round" stroke-linecap="round"/>
<circle cx="1023.9" cy="75.7" r="1.2" fill="#fff" stroke="#11a25c" stroke-width="0.8"/>
<circle cx="1057.1" cy="75.2" r="1.2" fill="#fff" stroke="#11a25c" stroke-width="0.8"/>
<circle cx="1090.6" cy="48.8" r="1.2" fill="#fff" stroke="#11a25c" stroke-width="0.8"/>
<circle cx="1122.8" cy="61.8" r="1.2" fill="#fff" stroke="#11a25c" stroke-width="0.8"/>
<circle cx="1156.5" cy="80.5" r="1.2" fill="#fff" stroke="#11a25c" stroke-width="0.8"/>
<circle cx="1185.8" cy="55.7" r="1.2" fill="#fff" stroke="#11a25c" stroke-width="0.8"/>
<circle cx="1220.7" cy="51.3" r="1.2" fill="#fff" stroke="#11a25c" stroke-width="0.8"/>
<path d="M1006.9 234.6L1232.8 234.6" stroke="#e3e9f1" stroke-width="0.9" />
<path d="M1006.9 218.1L1232.8 218.1" stroke="#e3e9f1" stroke-width="0.9" />
<path d="M1006.9 201.5L1232.8 201.5" stroke="#e3e9f1" stroke-width="0.9" />
<path d="M1006.9 185.0L1232.8 185.0" stroke="#e3e9f1" stroke-width="0.9" />
<path d="M1006.9 168.5L1232.8 168.5" stroke="#e3e9f1" stroke-width="0.9" />
<rect x="1015.2" y="172.6" width="16.7" height="78.5" fill="#26717a" />
<rect x="1035.7" y="177.1" width="16.8" height="74.0" fill="#5cbde0" />
<rect x="1056.3" y="238.9" width="16.7" height="12.2" fill="#5b9f9d" />
<rect x="1090.4" y="173.6" width="17.0" height="77.5" fill="#26717a" />
<rect x="1111.2" y="177.6" width="16.7" height="73.5" fill="#5cbde0" />
<rect x="1131.5" y="238.9" width="16.9" height="12.2" fill="#5b9f9d" />
<rect x="1165.9" y="249.2" width="17.0" height="1.9" fill="#26717a" />
<rect x="1186.2" y="249.3" width="17.0" height="1.8" fill="#5cbde0" />
<rect x="1206.5" y="250.6" width="16.9" height="0.5" fill="#5b9f9d" />
<path d="M1006.9 251.1L1232.8 251.1" stroke="#6e7079" stroke-width="0.9" />
<path d="M1006.9 168.5L1006.9 251.1" stroke="#6e7079" stroke-width="0.9" />
<path d="M1006.9 251.1L1006.9 254.1" stroke="#6e7079" stroke-width="0.9" />
<path d="M1082.2 251.1L1082.2 254.1" stroke="#6e7079" stroke-width="0.9" />
<path d="M1157.5 251.1L1157.5 254.1" stroke="#6e7079" stroke-width="0.9" />
<path d="M1232.8 251.1L1232.8 254.1" stroke="#6e7079" stroke-width="0.9" />
<path d="M1003.9 251.1L1006.9 251.1" stroke="#6e7079" stroke-width="0.9" />
<text x="1002.2" y="254.1" font-size="8.2" text-anchor="end" >0</text>
<path d="M1003.9 234.6L1006.9 234.6" stroke="#6e7079" stroke-width="0.9" />
<text x="1002.2" y="237.5" font-size="8.2" text-anchor="end" >1</text>
<path d="M1003.9 218.1L1006.9 218.1" stroke="#6e7079" stroke-width="0.9" />
<text x="1002.2" y="221.0" font-size="8.2" text-anchor="end" >2</text>
<path d="M1003.9 201.5L1006.9 201.5" stroke="#6e7079" stroke-width="0.9" />
<text x="1002.2" y="204.5" font-size="8.2" text-anchor="end" >3</text>
<path d="M1003.9 185.0L1006.9 185.0" stroke="#6e7079" stroke-width="0.9" />
<text x="1002.2" y="188.0" font-size="8.2" text-anchor="end" >4</text>
<path d="M1003.9 168.5L1006.9 168.5" stroke="#6e7079" stroke-width="0.9" />
<text x="1002.2" y="171.5" font-size="8.2" text-anchor="end" >5</text>
<text x="1044.1" y="262.4" font-size="6.8" >AM</text>
<text x="1119.6" y="262.4" font-size="6.8" >LSW</text>
<text x="1194.8" y="262.4" font-size="6.8" >BE</text>
<rect x="1051.2" y="144.6" width="15.2" height="8.1" rx="1.8" fill="#26717a"/>
<text x="1070.2" y="151.4" font-size="7.6000000000000005" text-anchor="start" fill="#333" >RMSE</text>
<rect x="1098" y="144.6" width="15.2" height="8.1" rx="1.8" fill="#5cbde0"/>
<text x="1117.5" y="151.4" font-size="7.6000000000000005" text-anchor="start" fill="#333" >MAE</text>
<rect x="1141.4" y="144.6" width="15.2" height="8.1" rx="1.8" fill="#5b9f9d"/>
<text x="1160.6" y="151.4" font-size="7.6000000000000005" text-anchor="start" fill="#333" >MAPE</text>
<path d="M1032.8 323.2L1036.9 323.2" stroke="#1aa8e0" stroke-width="1.0" />
<path d="M1042.3 323.2L1046.3 323.2" stroke="#1aa8e0" stroke-width="1.0" />
<circle cx="1039.55" cy="323.20" r="2.7" fill="#fff" stroke="#1aa8e0" stroke-width="1.0"/>
<text transform="translate(1049.6,325.7) scale(0.84,1)" font-size="7.300000000000001" text-anchor="start" fill="#333" >LTS(U)FT1</text>
<path d="M1084.6 323.2L1088.4 323.2" stroke="#9bd300" stroke-width="1.0" />
<path d="M1093.8 323.2L1097.6 323.2" stroke="#9bd300" stroke-width="1.0" />
<circle cx="1091.10" cy="323.20" r="2.7" fill="#fff" stroke="#9bd300" stroke-width="1.0"/>
<text transform="translate(1100.8,325.7) scale(0.84,1)" font-size="7.300000000000001" text-anchor="start" fill="#333" >LTS(U)FT2</text>
<path d="M1136.6 323.2L1140.4 323.2" stroke="#11a25c" stroke-width="1.0" />
<path d="M1145.8 323.2L1149.6 323.2" stroke="#11a25c" stroke-width="1.0" />
<circle cx="1143.10" cy="323.20" r="2.7" fill="#fff" stroke="#11a25c" stroke-width="1.0"/>
<text transform="translate(1152.8,325.7) scale(0.84,1)" font-size="7.300000000000001" text-anchor="start" fill="#333" >Average</text>
<path d="M1182.9 323.2L1186.7 323.2" stroke="#666666" stroke-width="1.0" />
<path d="M1192.1 323.2L1195.9 323.2" stroke="#666666" stroke-width="1.0" />
<circle cx="1189.40" cy="323.20" r="2.7" fill="#fff" stroke="#666666" stroke-width="1.0"/>
<text transform="translate(1199.2,325.7) scale(0.84,1)" font-size="7.300000000000001" text-anchor="start" fill="#333" >MW</text>
<path d="M1020.5 341.5L1229.7 341.5" stroke="#e2e7f1" stroke-width="0.8" />
<path d="M1020.5 349.5L1229.7 349.5" stroke="#e2e7f1" stroke-width="0.8" />
<path d="M1020.5 367.6L1229.7 367.6" stroke="#e2e7f1" stroke-width="0.8" />
<path d="M1020.5 386.6L1229.7 386.6" stroke="#e2e7f1" stroke-width="0.8" />
<path d="M1020.5 405.4L1229.7 405.4" stroke="#e2e7f1" stroke-width="0.8" />
<path d="M1020.5 416.7L1229.7 416.7" stroke="#e2e7f1" stroke-width="0.8" />
<path d="M1020.5 341.5L1229.7 341.5" stroke="#eef1f6" stroke-width="0.8" />
<path d="M1020.5 355.4L1229.7 355.4" stroke="#eef1f6" stroke-width="0.8" />
<path d="M1020.5 368.6L1229.7 368.6" stroke="#eef1f6" stroke-width="0.8" />
<path d="M1020.5 381.0L1229.7 381.0" stroke="#eef1f6" stroke-width="0.8" />
<path d="M1020.5 394.2L1229.7 394.2" stroke="#eef1f6" stroke-width="0.8" />
<path d="M1020.5 407.4L1229.7 407.4" stroke="#eef1f6" stroke-width="0.8" />
<path d="M1020.5 416.7L1229.7 416.7" stroke="#eef1f6" stroke-width="0.8" />
<path d="M1020.5 416.7L1229.7 416.7" stroke="#6e7079" stroke-width="0.9" />
<path d="M1020.5 416.7L1020.5 419.7" stroke="#6e7079" stroke-width="0.9" />
<text transform="translate(1020.5,426.9) scale(0.96,1)" font-size="6.6" fill="#586380" >03:06:40</text>
<path d="M1054.5 416.7L1054.5 419.7" stroke="#6e7079" stroke-width="0.9" />
<text transform="translate(1054.5,426.9) scale(0.96,1)" font-size="6.6" fill="#586380" >03:26:45</text>
<path d="M1087.4 416.7L1087.4 419.7" stroke="#6e7079" stroke-width="0.9" />
<text transform="translate(1087.4,426.9) scale(0.96,1)" font-size="6.6" fill="#586380" >03:46:50</text>
<path d="M1121.1 416.7L1121.1 419.7" stroke="#6e7079" stroke-width="0.9" />
<text transform="translate(1121.1,426.9) scale(0.96,1)" font-size="6.6" fill="#586380" >04:06:55</text>
<path d="M1154.8 416.7L1154.8 419.7" stroke="#6e7079" stroke-width="0.9" />
<text transform="translate(1154.8,426.9) scale(0.96,1)" font-size="6.6" fill="#586380" >04:27:00</text>
<path d="M1188.5 416.7L1188.5 419.7" stroke="#6e7079" stroke-width="0.9" />
<text transform="translate(1188.5,426.9) scale(0.96,1)" font-size="6.6" fill="#586380" >04:47:05</text>
<path d="M1221.9 416.7L1221.9 419.7" stroke="#6e7079" stroke-width="0.9" />
<text transform="translate(1221.9,426.9) scale(0.96,1)" font-size="6.6" fill="#586380" >05:07:10</text>
<path d="M1229.7 416.7L1229.7 419.7" stroke="#6e7079" stroke-width="0.9" />
<text transform="translate(1016.8,343.9) scale(0.9,1)" font-size="6.6" text-anchor="end" fill="#586380" >542</text>
<text transform="translate(1016.8,351.9) scale(0.9,1)" font-size="6.6" text-anchor="end" fill="#586380" >540</text>
<text transform="translate(1016.8,370.0) scale(0.9,1)" font-size="6.6" text-anchor="end" fill="#586380" >535</text>
<text transform="translate(1016.8,389.0) scale(0.9,1)" font-size="6.6" text-anchor="end" fill="#586380" >530</text>
<text transform="translate(1016.8,407.8) scale(0.9,1)" font-size="6.6" text-anchor="end" fill="#586380" >525</text>
<text transform="translate(1016.8,419.1) scale(0.9,1)" font-size="6.6" text-anchor="end" fill="#586380" >522</text>
<text transform="translate(1233.4,343.9) scale(0.9,1)" font-size="6.6" text-anchor="start" fill="#586380" >342</text>
<text transform="translate(1233.4,357.8) scale(0.9,1)" font-size="6.6" text-anchor="start" fill="#586380" >339</text>
<text transform="translate(1233.4,371.0) scale(0.9,1)" font-size="6.6" text-anchor="start" fill="#586380" >336</text>
<text transform="translate(1233.4,383.4) scale(0.9,1)" font-size="6.6" text-anchor="start" fill="#586380" >333</text>
<text transform="translate(1233.4,396.6) scale(0.9,1)" font-size="6.6" text-anchor="start" fill="#586380" >330</text>
<text transform="translate(1233.4,409.8) scale(0.9,1)" font-size="6.6" text-anchor="start" fill="#586380" >327</text>
<text transform="translate(1233.4,419.1) scale(0.9,1)" font-size="6.6" text-anchor="start" fill="#586380" >325</text>
<path d="M1020.5,351.7 L1022.0,348.8 L1023.5,345.2 L1024.7,342.7 L1025.4,356.1 L1026.1,383.0 L1026.9,395.2 L1027.5,392.7 L1028.1,394.7 L1028.7,392.9 L1029.4,392.5 L1030.0,394.7 L1030.6,394.7 L1031.2,394.1 L1031.8,393.9 L1032.5,398.0 L1033.1,396.2 L1033.7,397.4 L1034.3,392.9 L1034.9,394.5 L1035.6,393.3 L1036.2,393.1 L1036.8,393.5 L1037.4,398.3 L1038.0,397.4 L1038.7,394.1 L1039.3,394.6 L1039.9,394.9 L1040.5,393.2 L1041.1,395.0 L1041.8,394.2 L1042.4,395.9 L1043.0,398.0 L1043.6,409.0 L1044.2,394.8 L1044.9,397.0 L1045.5,399.0 L1046.1,394.6 L1046.7,394.1 L1047.3,396.1 L1048.0,402.0 L1048.6,396.0 L1049.2,404.0 L1049.8,404.0 L1050.4,395.2 L1051.1,398.0 L1051.7,394.7 L1052.3,397.7 L1052.9,393.5 L1053.5,395.5 L1054.2,393.8 L1054.8,394.5 L1055.4,394.8 L1056.0,394.2 L1056.6,395.0 L1057.3,395.2 L1057.9,397.0 L1058.5,394.6 L1059.1,395.1 L1059.7,396.5 L1060.4,395.8 L1061.0,396.6 L1061.6,395.7 L1062.2,393.5 L1062.8,396.8 L1063.5,394.3 L1064.1,395.9 L1064.7,394.6 L1065.3,396.8 L1065.9,392.1 L1066.6,394.8 L1067.2,396.8 L1067.8,394.5 L1068.4,395.9 L1069.0,394.4 L1069.7,406.8 L1070.3,392.3 L1070.9,393.6 L1071.5,393.6 L1072.1,395.7 L1072.8,391.8 L1073.4,392.3 L1074.0,395.3 L1074.6,393.4 L1075.2,393.4 L1075.9,395.7 L1076.5,395.0 L1077.1,394.0 L1077.7,393.0 L1078.3,395.0 L1079.0,394.2 L1079.6,393.9 L1080.2,394.4 L1080.8,396.1 L1081.4,396.6 L1082.1,399.6 L1082.7,395.5 L1083.3,396.5 L1083.9,395.0 L1084.5,400.4 L1085.2,395.1 L1085.8,395.1 L1086.4,396.6 L1087.0,395.3 L1087.6,395.3 L1088.3,394.9 L1088.9,396.3 L1089.5,395.4 L1090.1,393.1 L1090.7,394.2 L1091.4,394.2 L1092.0,394.4 L1092.6,393.9 L1093.2,400.3 L1093.8,398.5 L1094.5,397.3 L1095.1,395.8 L1095.7,394.7 L1096.3,393.0 L1096.9,392.4 L1097.6,399.1 L1098.2,395.6 L1098.8,394.8 L1099.4,395.3 L1100.0,392.5 L1100.7,394.0 L1101.3,403.7 L1101.9,398.7 L1102.5,392.6 L1103.1,402.5 L1103.8,393.2 L1104.4,395.5 L1105.0,395.1 L1105.6,392.0 L1106.2,394.0 L1106.9,393.4 L1107.5,395.7 L1108.1,400.9 L1108.7,396.8 L1109.3,394.8 L1110.0,399.2 L1110.6,394.4 L1111.2,397.5 L1111.8,399.0 L1112.4,395.4 L1113.1,395.2 L1113.7,392.6 L1114.3,395.2 L1114.9,393.2 L1115.5,394.0 L1116.2,391.9 L1116.8,399.8 L1117.4,395.8 L1118.0,394.8 L1118.6,396.5 L1119.3,393.5 L1119.9,393.8 L1120.5,394.0 L1121.1,394.0 L1121.7,392.4 L1122.4,395.5 L1123.0,394.0 L1123.6,393.8 L1124.2,406.5 L1124.8,393.6 L1125.5,394.3 L1126.1,398.1 L1126.7,394.8 L1127.3,395.9 L1127.9,394.9 L1128.6,399.6 L1129.2,395.8 L1129.8,393.6 L1130.4,394.2 L1131.0,395.0 L1131.7,393.3 L1132.3,396.8 L1132.9,395.8 L1133.5,391.9 L1134.1,393.8 L1134.8,394.4 L1135.4,396.2 L1136.0,393.8 L1136.6,403.9 L1137.2,394.6 L1137.9,402.6 L1138.5,395.5 L1139.1,394.4 L1139.7,393.6 L1140.3,395.0 L1141.0,394.3 L1141.6,394.8 L1142.2,394.1 L1142.8,392.5 L1143.4,395.6 L1144.1,392.8 L1144.7,394.9 L1145.3,394.9 L1145.9,397.5 L1146.5,397.0 L1147.2,395.3 L1147.8,393.6 L1148.4,395.4 L1149.0,394.0 L1149.6,394.1 L1150.3,394.8 L1150.9,395.4 L1151.5,394.4 L1152.1,400.8 L1152.7,392.8 L1153.4,395.3 L1154.0,392.9 L1154.6,390.8 L1155.2,400.0 L1155.8,393.1 L1156.5,394.7 L1157.1,393.1 L1157.7,393.5 L1158.3,406.5 L1158.9,395.7 L1159.6,394.1 L1160.2,397.6 L1160.8,398.0 L1161.4,393.4 L1162.0,392.9 L1162.7,395.9 L1163.3,394.2 L1163.9,394.5 L1164.5,394.2 L1165.1,398.4 L1165.8,398.4 L1166.4,394.2 L1167.0,396.8 L1167.6,395.7 L1168.2,393.9 L1168.9,394.4 L1169.5,393.8 L1170.1,399.6 L1170.7,393.5 L1171.3,394.3 L1172.0,396.9 L1172.6,395.2 L1173.2,395.6 L1173.8,397.8 L1174.4,397.4 L1175.1,395.4 L1175.7,394.2 L1176.3,393.0 L1176.9,397.6 L1177.5,399.0 L1178.2,393.5 L1178.8,395.1 L1179.4,394.0 L1180.0,394.0 L1180.6,392.9 L1181.3,393.7 L1181.9,393.8 L1182.5,394.3 L1183.1,400.4 L1183.7,394.8 L1184.4,394.1 L1185.0,395.8 L1185.6,390.1 L1186.2,393.4 L1186.8,394.2 L1187.5,394.8 L1188.1,396.2 L1188.7,393.6 L1189.3,392.8 L1189.9,396.9 L1190.6,396.9 L1191.2,396.9 L1191.8,394.6 L1192.4,393.8 L1193.0,399.2 L1193.7,395.1 L1194.3,393.4 L1194.9,397.2 L1195.5,395.9 L1196.1,394.7 L1196.8,394.5 L1197.4,394.3 L1198.0,394.8 L1198.6,393.1 L1199.2,395.3 L1199.9,394.1 L1200.5,397.4 L1201.1,401.1 L1201.7,395.6 L1202.3,395.0 L1203.0,400.5 L1203.6,400.6 L1204.2,393.6 L1204.8,398.5 L1205.4,395.1 L1206.1,393.8 L1206.7,409.5 L1207.3,396.7 L1207.9,392.8 L1208.5,397.9 L1209.2,391.9 L1209.8,398.4 L1210.4,398.4 L1211.0,401.8 L1211.6,393.4 L1212.3,399.6 L1212.9,402.9 L1213.5,395.6 L1214.1,394.4 L1214.7,395.9 L1215.4,400.9 L1216.0,399.5 L1216.6,395.2 L1217.2,398.7 L1217.8,400.2 L1218.5,394.6 L1219.1,396.2 L1219.7,393.3 L1220.3,394.9 L1220.9,392.6 L1221.6,393.9 L1222.2,394.7 L1222.8,392.8 L1223.4,394.5 L1224.0,391.2 L1224.7,394.3 L1225.3,392.0 L1225.9,392.6 L1226.5,391.4 L1227.1,389.4 L1227.8,392.2 L1228.4,401.1 L1229.0,390.8 L1229.6,391.3" fill="none" stroke="#666666" stroke-width="1.3" stroke-linejoin="round"/>
<path d="M1020.5,373.7C1020.8,374.6 1021.5,377.9 1022.2,379.3C1022.9,380.8 1023.9,383.5 1024.7,382.5C1025.5,381.5 1026.3,378.2 1027.1,373.2C1027.9,368.2 1028.7,357.8 1029.6,352.5C1030.4,347.2 1031.2,342.3 1032.0,341.5C1032.8,340.7 1033.6,345.8 1034.4,347.6C1035.3,349.4 1035.9,351.3 1036.9,352.5C1037.9,353.7 1039.3,353.3 1040.5,354.9C1041.8,356.5 1043.2,360.1 1044.2,362.2C1045.2,364.4 1045.7,367.3 1046.6,367.9C1047.6,368.4 1048.8,366.1 1049.8,365.4C1050.8,364.8 1051.9,363.8 1052.8,363.9C1053.6,364.1 1053.9,364.6 1054.7,366.4C1055.5,368.1 1056.5,372.4 1057.6,374.4C1058.7,376.5 1060.1,378.0 1061.3,378.6C1062.5,379.2 1063.7,379.1 1065.0,378.1C1066.2,377.1 1067.4,374.4 1068.6,372.7C1069.8,371.1 1071.1,369.7 1072.3,368.3C1073.5,367.0 1074.7,366.3 1075.9,364.7C1077.2,363.1 1078.6,359.9 1079.6,358.6C1080.6,357.2 1081.1,356.6 1082.0,356.6C1082.9,356.6 1084.1,358.4 1085.0,358.6C1085.9,358.7 1086.5,356.9 1087.4,357.6C1088.3,358.3 1089.4,361.9 1090.6,363.0C1091.7,364.0 1093.0,362.9 1094.2,363.9C1095.5,365.0 1096.7,368.3 1097.9,369.6C1099.1,370.8 1100.3,370.8 1101.6,371.3C1102.8,371.8 1104.0,372.0 1105.2,372.5C1106.4,373.0 1107.7,373.8 1108.9,374.4C1110.1,375.1 1111.3,375.9 1112.6,376.2C1113.8,376.4 1115.0,377.2 1116.2,375.7C1117.4,374.2 1118.9,369.0 1119.9,367.1C1120.9,365.3 1121.3,365.7 1122.3,364.7C1123.3,363.7 1124.8,363.1 1126.0,361.0C1127.2,359.0 1128.6,354.1 1129.6,352.5C1130.7,350.9 1131.3,350.4 1132.1,351.3C1132.9,352.1 1133.5,354.1 1134.5,357.4C1135.5,360.6 1137.1,366.9 1138.2,370.8C1139.3,374.6 1140.1,380.5 1141.1,380.5C1142.1,380.5 1143.1,373.1 1144.3,370.8C1145.4,368.4 1146.7,366.7 1147.9,366.4C1149.2,366.1 1150.5,368.1 1151.6,368.8C1152.7,369.6 1153.8,369.0 1154.8,370.8C1155.8,372.5 1156.6,377.4 1157.7,379.3C1158.8,381.3 1160.1,382.0 1161.4,382.5C1162.6,383.0 1163.8,382.6 1165.0,382.5C1166.2,382.4 1167.7,384.5 1168.7,381.8C1169.7,379.0 1170.2,370.2 1171.1,365.9C1172.1,361.6 1173.1,357.7 1174.3,356.1C1175.5,354.6 1177.2,356.2 1178.5,356.6C1179.8,357.0 1180.9,357.8 1182.1,358.6C1183.3,359.4 1184.8,360.8 1185.8,361.5C1186.8,362.2 1187.2,364.1 1188.2,363.0C1189.2,361.9 1190.7,356.4 1191.9,354.9C1193.1,353.5 1194.3,354.2 1195.5,354.2C1196.8,354.2 1198.0,353.8 1199.2,354.9C1200.4,356.1 1201.6,358.2 1202.9,361.0C1204.1,363.9 1205.4,369.0 1206.5,372.0C1207.6,375.1 1208.2,378.4 1209.5,379.3C1210.7,380.3 1212.5,378.2 1213.8,377.6C1215.2,377.0 1216.5,377.4 1217.5,375.7C1218.5,373.9 1219.1,369.1 1219.9,367.1C1220.8,365.2 1221.6,365.4 1222.4,363.9C1223.2,362.5 1224.0,360.5 1224.8,358.6C1225.6,356.7 1226.5,355.1 1227.3,352.5C1228.1,349.8 1229.3,344.3 1229.7,342.7" fill="none" stroke="#1aa8e0" stroke-width="1.15" stroke-linejoin="round" stroke-linecap="round"/>
<circle cx="1020.5" cy="373.7" r="1.2" fill="#fff" stroke="#1aa8e0" stroke-width="0.8"/>
<circle cx="1054.7" cy="366.4" r="1.2" fill="#fff" stroke="#1aa8e0" stroke-width="0.8"/>
<circle cx="1087.4" cy="357.6" r="1.2" fill="#fff" stroke="#1aa8e0" stroke-width="0.8"/>
<circle cx="1122.3" cy="364.7" r="1.2" fill="#fff" stroke="#1aa8e0" stroke-width="0.8"/>
<circle cx="1154.8" cy="370.8" r="1.2" fill="#fff" stroke="#1aa8e0" stroke-width="0.8"/>
<circle cx="1188.2" cy="363.0" r="1.2" fill="#fff" stroke="#1aa8e0" stroke-width="0.8"/>
<circle cx="1222.4" cy="363.9" r="1.2" fill="#fff" stroke="#1aa8e0" stroke-width="0.8"/>
<path d="M1020.5,400.6C1020.9,400.8 1022.2,402.7 1023.0,402.0C1023.8,401.3 1024.5,400.4 1025.4,396.4C1026.3,392.4 1027.3,383.1 1028.3,378.1C1029.4,373.1 1030.7,368.2 1031.5,366.4C1032.3,364.6 1032.5,365.8 1033.2,367.1C1033.9,368.5 1034.6,372.4 1035.7,374.4C1036.7,376.5 1038.1,377.1 1039.3,379.3C1040.5,381.6 1041.9,385.0 1043.0,387.9C1044.1,390.7 1044.9,395.7 1045.9,396.4C1046.9,397.1 1048.0,393.0 1049.1,392.3C1050.2,391.6 1051.7,390.8 1052.8,392.3C1053.8,393.8 1054.4,399.5 1055.2,401.3C1056.0,403.1 1056.6,403.4 1057.6,403.0C1058.6,402.6 1060.1,401.4 1061.3,398.9C1062.5,396.3 1063.7,390.9 1065.0,387.9C1066.2,384.8 1067.4,382.0 1068.6,380.5C1069.8,379.1 1071.1,380.5 1072.3,379.3C1073.5,378.1 1074.7,375.3 1075.9,373.2C1077.2,371.2 1078.6,368.3 1079.6,367.1C1080.6,365.9 1081.0,365.8 1082.0,365.9C1083.1,366.0 1084.5,367.0 1085.7,367.9C1086.9,368.7 1088.1,370.1 1089.4,370.8C1090.6,371.5 1091.8,370.8 1093.0,372.0C1094.2,373.2 1095.5,376.4 1096.7,378.1C1097.9,379.9 1099.1,381.6 1100.3,382.5C1101.6,383.4 1102.8,383.3 1104.0,383.5C1105.2,383.6 1106.4,383.6 1107.7,383.5C1108.9,383.3 1110.1,383.4 1111.3,382.5C1112.6,381.6 1113.8,380.1 1115.0,378.1C1116.2,376.2 1117.6,372.9 1118.7,370.8C1119.7,368.7 1120.1,366.3 1121.1,365.4C1122.1,364.5 1123.5,365.7 1124.8,365.4C1126.0,365.2 1127.3,364.5 1128.4,363.9C1129.6,363.4 1130.6,361.3 1131.6,362.2C1132.6,363.2 1133.4,366.5 1134.5,369.6C1135.6,372.6 1137.1,378.5 1138.2,380.5C1139.3,382.6 1140.1,384.2 1141.1,381.8C1142.1,379.3 1143.2,369.0 1144.3,365.9C1145.3,362.8 1146.4,362.8 1147.5,363.0C1148.5,363.2 1149.3,365.5 1150.4,367.1C1151.5,368.7 1152.8,370.3 1154.0,372.7C1155.3,375.2 1156.5,379.7 1157.7,381.8C1158.9,383.9 1160.1,385.0 1161.4,385.4C1162.6,385.8 1163.8,384.6 1165.0,384.2C1166.2,383.8 1167.7,385.2 1168.7,383.0C1169.7,380.8 1170.2,373.8 1171.1,370.8C1172.1,367.7 1173.1,365.1 1174.3,364.7C1175.5,364.3 1177.2,367.2 1178.5,368.3C1179.8,369.4 1180.9,370.7 1182.1,371.3C1183.3,371.9 1184.8,371.6 1185.8,372.0C1186.8,372.4 1187.3,374.5 1188.2,373.7C1189.2,372.9 1190.3,368.4 1191.4,367.1C1192.5,365.8 1193.7,364.9 1194.8,365.9C1195.9,366.9 1196.8,370.2 1198.0,373.2C1199.1,376.3 1200.4,380.1 1201.6,384.2C1202.9,388.3 1204.1,393.4 1205.3,397.6C1206.5,401.9 1207.7,407.7 1209.0,409.8C1210.2,412.0 1211.4,410.5 1212.6,410.3C1213.8,410.1 1215.2,409.5 1216.3,408.6C1217.4,407.7 1218.3,407.4 1219.2,405.0C1220.1,402.5 1220.8,396.6 1221.7,394.0C1222.5,391.3 1223.3,390.7 1224.1,389.1C1224.9,387.5 1225.6,386.0 1226.5,384.2C1227.5,382.4 1229.2,379.1 1229.7,378.1" fill="none" stroke="#9bd300" stroke-width="1.15" stroke-linejoin="round" stroke-linecap="round"/>
<circle cx="1020.5" cy="400.6" r="1.2" fill="#fff" stroke="#9bd300" stroke-width="0.8"/>
<circle cx="1055.2" cy="401.3" r="1.2" fill="#fff" stroke="#9bd300" stroke-width="0.8"/>
<circle cx="1085.7" cy="367.9" r="1.2" fill="#fff" stroke="#9bd300" stroke-width="0.8"/>
<circle cx="1121.1" cy="365.4" r="1.2" fill="#fff" stroke="#9bd300" stroke-width="0.8"/>
<circle cx="1154.0" cy="372.7" r="1.2" fill="#fff" stroke="#9bd300" stroke-width="0.8"/>
<circle cx="1188.2" cy="373.7" r="1.2" fill="#fff" stroke="#9bd300" stroke-width="0.8"/>
<circle cx="1221.7" cy="394.0" r="1.2" fill="#fff" stroke="#9bd300" stroke-width="0.8"/>
<path d="M1020.5,387.4C1020.9,388.1 1022.2,391.1 1023.0,391.5C1023.8,391.9 1024.5,393.3 1025.4,389.8C1026.3,386.4 1027.3,376.5 1028.3,370.8C1029.4,365.1 1030.7,358.1 1031.5,355.7C1032.3,353.2 1032.5,354.6 1033.2,356.1C1033.9,357.6 1034.6,362.6 1035.7,364.7C1036.7,366.7 1038.1,366.7 1039.3,368.3C1040.5,370.0 1041.9,372.1 1043.0,374.4C1044.1,376.8 1044.9,381.7 1045.9,382.5C1046.9,383.3 1048.0,379.7 1049.1,379.3C1050.2,378.9 1051.7,379.2 1052.8,380.1C1053.8,380.9 1054.4,382.5 1055.2,384.2C1056.0,385.9 1056.6,389.1 1057.6,390.3C1058.6,391.5 1060.1,392.1 1061.3,391.5C1062.5,390.9 1063.7,388.9 1065.0,386.6C1066.2,384.4 1067.4,379.9 1068.6,378.1C1069.8,376.3 1071.1,376.9 1072.3,375.7C1073.5,374.4 1074.7,372.6 1075.9,370.8C1077.2,369.0 1078.6,365.9 1079.6,364.7C1080.6,363.5 1081.0,363.3 1082.0,363.5C1083.1,363.6 1084.7,365.1 1085.7,365.4C1086.7,365.7 1087.1,364.7 1088.1,365.4C1089.2,366.1 1090.6,368.7 1091.8,369.6C1093.0,370.5 1094.2,369.6 1095.5,370.8C1096.7,372.0 1097.9,375.6 1099.1,376.9C1100.3,378.2 1101.6,378.2 1102.8,378.6C1104.0,379.0 1105.2,379.0 1106.4,379.3C1107.7,379.7 1108.9,380.5 1110.1,380.5C1111.3,380.5 1112.6,380.3 1113.8,379.3C1115.0,378.3 1116.3,376.3 1117.4,374.4C1118.6,372.6 1119.5,369.6 1120.6,368.3C1121.7,367.1 1122.8,367.9 1124.0,367.1C1125.2,366.4 1126.7,365.0 1127.9,363.9C1129.2,362.9 1130.5,360.2 1131.6,360.5C1132.7,360.9 1133.4,362.8 1134.5,365.9C1135.6,369.0 1137.1,376.7 1138.2,379.3C1139.3,382.0 1140.1,383.6 1141.1,381.8C1142.1,379.9 1143.2,371.1 1144.3,368.3C1145.3,365.6 1146.4,365.5 1147.5,365.4C1148.5,365.3 1149.3,366.8 1150.4,367.9C1151.5,369.0 1152.8,369.8 1154.0,372.0C1155.3,374.2 1156.5,378.9 1157.7,381.0C1158.9,383.2 1160.1,384.4 1161.4,384.9C1162.6,385.5 1163.8,384.5 1165.0,384.2C1166.2,383.9 1167.7,385.6 1168.7,383.0C1169.7,380.4 1170.2,372.0 1171.1,368.8C1172.1,365.7 1173.1,364.5 1174.3,363.9C1175.5,363.4 1177.2,364.7 1178.5,365.4C1179.8,366.1 1180.9,367.4 1182.1,368.3C1183.3,369.2 1184.8,370.2 1185.8,370.8C1186.8,371.4 1187.3,373.1 1188.2,372.0C1189.2,370.9 1190.3,365.4 1191.4,363.9C1192.5,362.5 1193.7,362.9 1194.8,363.5C1195.9,364.0 1196.8,365.1 1198.0,367.1C1199.1,369.2 1200.4,372.4 1201.6,375.7C1202.9,378.9 1204.1,383.2 1205.3,386.6C1206.5,390.1 1207.7,394.6 1209.0,396.4C1210.2,398.2 1211.4,398.0 1212.6,397.6C1213.8,397.2 1215.2,395.8 1216.3,394.0C1217.4,392.1 1218.2,388.9 1219.2,386.6C1220.2,384.4 1221.5,382.4 1222.4,380.5C1223.3,378.7 1224.0,377.3 1224.8,375.7C1225.6,374.0 1226.5,372.6 1227.3,370.8C1228.1,369.0 1229.3,365.7 1229.7,364.7" fill="none" stroke="#11a25c" stroke-width="1.15" stroke-linejoin="round" stroke-linecap="round"/>
<circle cx="1020.5" cy="387.4" r="1.2" fill="#fff" stroke="#11a25c" stroke-width="0.8"/>
<circle cx="1055.2" cy="384.2" r="1.2" fill="#fff" stroke="#11a25c" stroke-width="0.8"/>
<circle cx="1088.1" cy="365.4" r="1.2" fill="#fff" stroke="#11a25c" stroke-width="0.8"/>
<circle cx="1120.6" cy="368.3" r="1.2" fill="#fff" stroke="#11a25c" stroke-width="0.8"/>
<circle cx="1154.0" cy="372.0" r="1.2" fill="#fff" stroke="#11a25c" stroke-width="0.8"/>
<circle cx="1188.2" cy="372.0" r="1.2" fill="#fff" stroke="#11a25c" stroke-width="0.8"/>
<circle cx="1222.4" cy="380.5" r="1.2" fill="#fff" stroke="#11a25c" stroke-width="0.8"/>
<path d="M1001.5 540.2L1234.2 540.2" stroke="#e3e9f1" stroke-width="0.9" />
<path d="M1001.5 523.2L1234.2 523.2" stroke="#e3e9f1" stroke-width="0.9" />
<path d="M1001.5 506.2L1234.2 506.2" stroke="#e3e9f1" stroke-width="0.9" />
<path d="M1001.5 489.2L1234.2 489.2" stroke="#e3e9f1" stroke-width="0.9" />
<path d="M1001.5 472.2L1234.2 472.2" stroke="#e3e9f1" stroke-width="0.9" />
<rect x="1010.2" y="485.0" width="17.2" height="72.2" fill="#26717a" />
<rect x="1030.9" y="486.9" width="17.6" height="70.3" fill="#5cbde0" />
<rect x="1052.4" y="543.5" width="17.5" height="13.7" fill="#5b9f9d" />
<rect x="1087.8" y="485.0" width="17.3" height="72.2" fill="#26717a" />
<rect x="1108.9" y="486.9" width="17.3" height="70.3" fill="#5cbde0" />
<rect x="1130.0" y="543.5" width="17.6" height="13.7" fill="#5b9f9d" />
<rect x="1165.5" y="550.8" width="17.3" height="6.4" fill="#26717a" />
<rect x="1186.6" y="551.4" width="17.3" height="5.8" fill="#5cbde0" />
<rect x="1208.0" y="555.9" width="17.3" height="1.3" fill="#5b9f9d" />
<path d="M1001.5 557.2L1234.2 557.2" stroke="#6e7079" stroke-width="0.9" />
<path d="M1001.5 472.2L1001.5 557.2" stroke="#6e7079" stroke-width="0.9" />
<path d="M1001.5 557.2L1001.5 560.2" stroke="#6e7079" stroke-width="0.9" />
<path d="M1079.1 557.2L1079.1 560.2" stroke="#6e7079" stroke-width="0.9" />
<path d="M1156.6 557.2L1156.6 560.2" stroke="#6e7079" stroke-width="0.9" />
<path d="M1234.2 557.2L1234.2 560.2" stroke="#6e7079" stroke-width="0.9" />
<path d="M998.5 557.2L1001.5 557.2" stroke="#6e7079" stroke-width="0.9" />
<text x="997.0" y="560.2" font-size="8.2" text-anchor="end" >0</text>
<path d="M998.5 540.2L1001.5 540.2" stroke="#6e7079" stroke-width="0.9" />
<text x="997.0" y="543.2" font-size="8.2" text-anchor="end" >2</text>
<path d="M998.5 523.2L1001.5 523.2" stroke="#6e7079" stroke-width="0.9" />
<text x="997.0" y="526.2" font-size="8.2" text-anchor="end" >4</text>
<path d="M998.5 506.2L1001.5 506.2" stroke="#6e7079" stroke-width="0.9" />
<text x="997.0" y="509.2" font-size="8.2" text-anchor="end" >6</text>
<path d="M998.5 489.2L1001.5 489.2" stroke="#6e7079" stroke-width="0.9" />
<text x="997.0" y="492.2" font-size="8.2" text-anchor="end" >8</text>
<path d="M998.5 472.2L1001.5 472.2" stroke="#6e7079" stroke-width="0.9" />
<text x="997.0" y="475.2" font-size="8.2" text-anchor="end" >10</text>
<text x="1039.9" y="568.9" font-size="6.8" >AM</text>
<text x="1117.6" y="568.9" font-size="6.8" >LSW</text>
<text x="1195.5" y="568.9" font-size="6.8" >BE</text>
<rect x="1046.9" y="447.7" width="16.3" height="8.0" rx="1.8" fill="#26717a"/>
<text x="1067.1" y="454.4" font-size="7.6000000000000005" text-anchor="start" fill="#333" >RMSE</text>
<rect x="1095.8" y="447.7" width="16.0" height="8.0" rx="1.8" fill="#5cbde0"/>
<text x="1115.6" y="454.4" font-size="7.6000000000000005" text-anchor="start" fill="#333" >MAE</text>
<rect x="1139.9" y="447.7" width="16.0" height="8.0" rx="1.8" fill="#5b9f9d"/>
<text x="1159.7" y="454.4" font-size="7.6000000000000005" text-anchor="start" fill="#333" >MAPE</text>
</svg>
</body></html>
